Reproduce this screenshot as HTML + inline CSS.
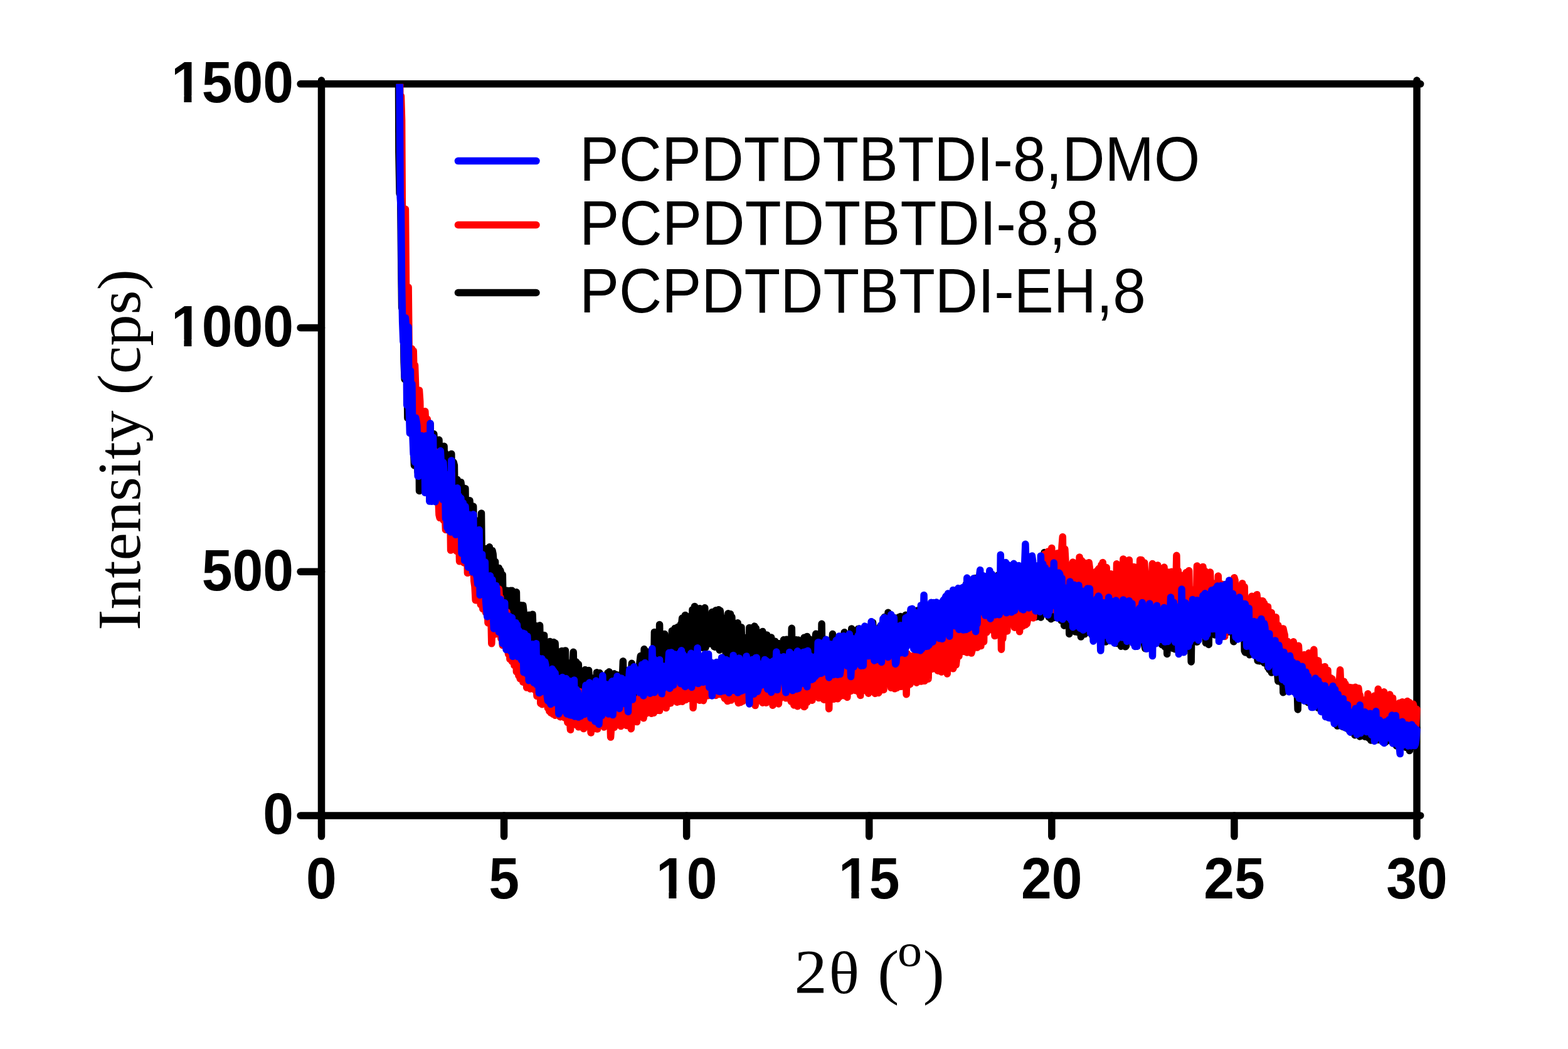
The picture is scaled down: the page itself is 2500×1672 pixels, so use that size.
<!DOCTYPE html>
<html lang="en"><head><meta charset="utf-8"><title>XRD patterns</title>
<style>html,body{margin:0;padding:0;background:#fff}body{width:2500px;height:1672px;overflow:hidden}svg{display:block}.tk{font-family:"Liberation Sans",Arial,Helvetica,sans-serif;font-weight:bold;fill:#000}.lg{font-family:"Liberation Sans",Arial,Helvetica,sans-serif;fill:#000}.ti{font-family:"Liberation Serif","Times New Roman",Times,serif;fill:#000}</style></head><body>
<svg width="2500" height="1672" viewBox="0 0 2500 1672">
<rect width="2500" height="1672" fill="#fff"/>
<defs><clipPath id="pc"><rect x="500" y="133.85" width="1790" height="1200"/></clipPath></defs>
<g stroke="#000" stroke-width="11.5" stroke-linecap="round" fill="none">
<path d="M512.5,128.10V1299.9"/>
<path d="M2259.0,128.10V1299.9"/>
<path d="M512.5,133.85H2264.75"/>
<path d="M512.5,1299.9H2264.75"/>
<path d="M512.50,1299.9V1333.10"/>
<path d="M803.58,1299.9V1333.10"/>
<path d="M1094.67,1299.9V1333.10"/>
<path d="M1385.75,1299.9V1333.10"/>
<path d="M1676.83,1299.9V1333.10"/>
<path d="M1967.92,1299.9V1333.10"/>
<path d="M2259.00,1299.9V1333.10"/>
<path d="M479.10,1299.90H512.5"/>
<path d="M479.10,911.22H512.5"/>
<path d="M479.10,522.53H512.5"/>
<path d="M479.10,133.85H512.5"/>
</g>
<text class="tk" transform="translate(512.50,1431.70) scale(0.952,1)" font-size="92.1" text-anchor="middle">0</text>
<text class="tk" transform="translate(803.58,1431.70) scale(0.952,1)" font-size="92.1" text-anchor="middle">5</text>
<text class="tk" transform="translate(1094.67,1431.70) scale(0.952,1)" font-size="92.1" text-anchor="middle">10</text>
<text class="tk" transform="translate(1385.75,1431.70) scale(0.952,1)" font-size="92.1" text-anchor="middle">15</text>
<text class="tk" transform="translate(1676.83,1431.70) scale(0.952,1)" font-size="92.1" text-anchor="middle">20</text>
<text class="tk" transform="translate(1967.92,1431.70) scale(0.952,1)" font-size="92.1" text-anchor="middle">25</text>
<text class="tk" transform="translate(2259.00,1431.70) scale(0.952,1)" font-size="92.1" text-anchor="middle">30</text>
<text class="tk" transform="translate(468.00,1329.40) scale(0.952,1)" font-size="92.1" text-anchor="end">0</text>
<text class="tk" transform="translate(468.00,940.72) scale(0.952,1)" font-size="92.1" text-anchor="end">500</text>
<text class="tk" transform="translate(468.00,552.03) scale(0.952,1)" font-size="92.1" text-anchor="end">1000</text>
<text class="tk" transform="translate(468.00,163.35) scale(0.952,1)" font-size="92.1" text-anchor="end">1500</text>
<rect x="277.27" y="541.03" width="16.14" height="12.00" fill="#fff"/>
<rect x="305.44" y="541.03" width="15.03" height="12.00" fill="#fff"/>
<rect x="277.27" y="152.35" width="16.14" height="12.00" fill="#fff"/>
<rect x="305.44" y="152.35" width="15.03" height="12.00" fill="#fff"/>
<rect x="1050.23" y="1420.70" width="16.14" height="12.00" fill="#fff"/>
<rect x="1078.40" y="1420.70" width="15.03" height="12.00" fill="#fff"/>
<rect x="1341.31" y="1420.70" width="16.14" height="12.00" fill="#fff"/>
<rect x="1369.48" y="1420.70" width="15.03" height="12.00" fill="#fff"/>
<text class="ti" transform="translate(222.90,717.00) rotate(-90) scale(1.029,1)" font-size="97.3" text-anchor="middle">Intensity (cps)</text>
<text class="ti" transform="scale(1.06,1)"><tspan x="1194.91" y="1582" font-size="98.6">2</tspan><tspan x="1246.60" y="1582.6" font-size="95.9">θ </tspan><tspan x="1320.05" y="1582" font-size="96.5">(</tspan><tspan x="1350.09" y="1539.6" font-size="73.7">o</tspan><tspan x="1388.44" y="1582" font-size="96.5">)</tspan></text>
<g clip-path="url(#pc)" fill="none" stroke-width="11.5" stroke-linejoin="round" stroke-linecap="round">
<path stroke="#000000" d="M628.9,-690.4 630.1,-586.3 631.3,-441.8 632.4,-145.1 633.6,0.9 634.8,-71.4 635.9,242.9 637.1,308.6 638.2,264.2 639.4,385.5 640.6,490.5 641.7,486.0 642.9,484.5 644.1,577.2 645.2,604.5 646.4,518.5 647.6,542.2 648.7,578.3 649.9,666.4 651.1,590.4 652.2,557.3 653.4,670.5 654.5,621.0 655.7,652.7 656.9,680.9 658.0,639.3 659.2,706.5 660.4,741.9 661.5,634.7 662.7,736.1 663.9,706.4 665.0,734.2 666.2,752.8 667.4,629.2 668.5,782.5 669.7,754.9 670.8,683.4 672.0,754.1 673.2,667.9 674.3,755.8 675.5,770.8 676.7,759.8 677.8,748.0 679.0,732.6 680.2,675.8 681.3,693.7 682.5,752.9 683.7,779.4 684.8,770.5 686.0,675.5 687.2,741.9 688.3,701.1 689.5,782.1 690.6,784.4 691.8,691.6 693.0,716.6 694.1,766.4 695.3,766.7 696.5,786.0 697.6,781.2 698.8,792.8 700.0,701.1 701.1,755.0 702.3,790.3 703.5,714.4 704.6,788.9 705.8,800.3 706.9,734.6 708.1,711.3 709.3,808.8 710.4,722.6 711.6,802.0 712.8,811.1 713.9,818.1 715.1,800.4 716.3,741.0 717.4,778.8 718.6,736.0 719.8,723.4 720.9,809.1 722.1,816.0 723.2,737.0 724.4,741.6 725.6,815.1 726.7,806.6 727.9,821.6 729.1,764.2 730.2,845.5 731.4,845.9 732.6,821.3 733.7,837.9 734.9,768.7 736.1,778.6 737.2,800.8 738.4,790.2 739.5,790.0 740.7,785.7 741.9,778.6 743.0,862.9 744.2,806.5 745.4,868.4 746.5,845.4 747.7,801.9 748.9,797.8 750.0,809.8 751.2,888.1 752.4,868.3 753.5,885.8 754.7,807.1 755.8,892.6 757.0,888.7 758.2,882.6 759.3,905.7 760.5,829.9 761.7,849.6 762.8,908.2 764.0,877.2 765.2,918.4 766.3,863.4 767.5,817.9 768.7,928.4 769.8,926.6 771.0,880.1 772.1,874.2 773.3,919.8 774.5,878.4 775.6,922.1 776.8,939.5 778.0,929.4 779.1,924.8 780.3,871.8 781.5,948.9 782.6,952.6 783.8,904.3 785.0,877.8 786.1,883.0 787.3,898.1 788.4,963.6 789.6,895.1 790.8,983.3 791.9,965.0 793.1,941.1 794.3,974.0 795.4,905.5 796.6,912.9 797.8,909.3 798.9,914.0 800.1,970.4 801.3,916.1 802.4,975.2 803.6,983.7 804.7,968.1 805.9,955.0 807.1,979.8 808.2,941.2 809.4,943.4 810.6,988.1 811.7,945.5 812.9,983.5 814.1,941.2 815.2,991.9 816.4,941.2 817.6,985.7 818.7,963.8 819.9,955.2 821.0,972.4 822.2,1004.8 823.4,943.8 824.5,1017.3 825.7,1005.7 826.9,977.6 828.0,1025.6 829.2,1021.1 830.4,964.8 831.5,967.5 832.7,978.8 833.9,965.1 835.0,974.7 836.2,1022.7 837.3,985.4 838.5,1023.1 839.7,982.0 840.8,1022.9 842.0,1038.6 843.2,980.3 844.3,992.2 845.5,990.5 846.7,1005.4 847.8,991.4 849.0,979.2 850.2,1009.2 851.3,1053.8 852.5,1013.1 853.6,997.2 854.8,1004.7 856.0,1000.7 857.1,1029.8 858.3,999.7 859.5,1060.4 860.6,996.8 861.8,1048.4 863.0,1064.9 864.1,1021.4 865.3,1045.2 866.5,1049.0 867.6,1012.4 868.8,1068.8 870.0,1028.3 871.1,1055.3 872.3,1038.9 873.4,1046.7 874.6,1074.8 875.8,1045.0 876.9,1022.5 878.1,1076.3 879.3,1084.2 880.4,1082.9 881.6,1061.2 882.8,1023.5 883.9,1086.6 885.1,1024.9 886.3,1051.1 887.4,1085.8 888.6,1070.2 889.7,1083.4 890.9,1041.7 892.1,1054.5 893.2,1081.4 894.4,1083.7 895.6,1037.4 896.7,1042.8 897.9,1074.3 899.1,1077.4 900.2,1046.4 901.4,1036.9 902.6,1096.1 903.7,1093.4 904.9,1083.7 906.0,1067.6 907.2,1099.2 908.4,1100.7 909.5,1094.5 910.7,1086.3 911.9,1054.9 913.0,1063.4 914.2,1039.3 915.4,1106.8 916.5,1086.8 917.7,1055.3 918.9,1055.1 920.0,1096.9 921.2,1058.9 922.3,1058.7 923.5,1097.7 924.7,1068.8 925.8,1102.5 927.0,1113.6 928.2,1081.6 929.3,1117.6 930.5,1077.4 931.7,1071.1 932.8,1067.5 934.0,1101.4 935.2,1119.1 936.3,1069.8 937.5,1071.5 938.6,1068.5 939.8,1086.0 941.0,1081.8 942.1,1109.9 943.3,1119.5 944.5,1115.0 945.6,1080.9 946.8,1113.8 948.0,1082.8 949.1,1097.8 950.3,1106.2 951.5,1071.7 952.6,1121.3 953.8,1102.1 954.9,1121.5 956.1,1072.6 957.3,1101.7 958.4,1113.5 959.6,1120.9 960.8,1088.1 961.9,1109.3 963.1,1122.2 964.3,1125.6 965.4,1109.5 966.6,1088.2 967.8,1093.8 968.9,1072.6 970.1,1072.0 971.2,1070.8 972.4,1075.9 973.6,1133.1 974.7,1140.5 975.9,1107.1 977.1,1106.7 978.2,1122.6 979.4,1073.8 980.6,1113.8 981.7,1122.0 982.9,1099.4 984.1,1075.7 985.2,1101.3 986.4,1105.7 987.5,1077.3 988.7,1114.4 989.9,1119.7 991.0,1079.8 992.2,1084.5 993.4,1053.7 994.5,1099.0 995.7,1067.4 996.9,1116.8 998.0,1116.0 999.2,1075.8 1000.4,1107.0 1001.5,1113.1 1002.7,1110.2 1003.8,1097.8 1005.0,1099.4 1006.2,1074.9 1007.3,1057.3 1008.5,1096.0 1009.7,1104.6 1010.8,1071.3 1012.0,1110.6 1013.2,1092.3 1014.3,1095.7 1015.5,1090.8 1016.7,1122.3 1017.8,1068.9 1019.0,1063.0 1020.1,1055.3 1021.3,1045.6 1022.5,1088.5 1023.6,1057.7 1024.8,1080.7 1026.0,1093.5 1027.1,1034.6 1028.3,1049.3 1029.5,1039.8 1030.6,1043.9 1031.8,1038.8 1033.0,1092.4 1034.1,1096.0 1035.3,1087.3 1036.5,1073.9 1037.6,1043.7 1038.8,1069.1 1039.9,1055.0 1041.1,1035.4 1042.3,1085.4 1043.4,1007.4 1044.6,1083.9 1045.8,1073.7 1046.9,1030.7 1048.1,1031.9 1049.3,1061.2 1050.4,1067.6 1051.6,995.5 1052.8,1067.3 1053.9,1078.0 1055.1,1067.5 1056.2,1077.2 1057.4,1019.0 1058.6,1071.8 1059.7,1010.5 1060.9,1066.4 1062.1,1060.8 1063.2,1029.5 1064.4,1059.4 1065.6,1054.2 1066.7,1068.5 1067.9,1052.0 1069.1,1070.4 1070.2,1060.5 1071.4,1005.4 1072.5,1055.5 1073.7,1054.9 1074.9,1013.6 1076.0,1001.4 1077.2,1049.6 1078.4,1042.9 1079.5,1005.3 1080.7,999.4 1081.9,1008.8 1083.0,1048.9 1084.2,1047.4 1085.4,995.0 1086.5,996.5 1087.7,985.2 1088.8,989.8 1090.0,1025.9 1091.2,1042.9 1092.3,980.6 1093.5,989.9 1094.7,997.6 1095.8,988.4 1097.0,1022.2 1098.2,1024.3 1099.3,993.1 1100.5,1008.8 1101.7,981.2 1102.8,1041.1 1104.0,971.7 1105.1,1016.1 1106.3,1016.8 1107.5,966.4 1108.6,1014.6 1109.8,972.7 1111.0,1032.9 1112.1,1009.5 1113.3,995.7 1114.5,973.0 1115.6,969.7 1116.8,1031.2 1118.0,986.3 1119.1,985.8 1120.3,1032.3 1121.4,974.1 1122.6,993.9 1123.8,968.8 1124.9,1032.2 1126.1,998.7 1127.3,1024.9 1128.4,988.3 1129.6,991.3 1130.8,1002.3 1131.9,1026.1 1133.1,1004.8 1134.3,1023.1 1135.4,975.5 1136.6,1015.0 1137.7,1013.2 1138.9,1030.8 1140.1,1031.2 1141.2,972.8 1142.4,1027.5 1143.6,977.0 1144.7,993.9 1145.9,971.8 1147.1,1036.2 1148.2,973.6 1149.4,982.2 1150.6,996.5 1151.7,986.0 1152.9,985.2 1154.0,1017.1 1155.2,991.2 1156.4,1033.2 1157.5,1043.5 1158.7,988.6 1159.9,1014.9 1161.0,977.7 1162.2,1034.1 1163.4,1063.1 1164.5,978.8 1165.7,984.6 1166.9,983.5 1168.0,1047.5 1169.2,1048.7 1170.3,1046.6 1171.5,1039.5 1172.7,1053.9 1173.8,1052.6 1175.0,1058.9 1176.2,992.7 1177.3,1041.3 1178.5,1010.0 1179.7,1033.8 1180.8,1003.0 1182.0,999.8 1183.2,1040.6 1184.3,1019.0 1185.5,1056.9 1186.6,1047.4 1187.8,1051.0 1189.0,1046.3 1190.1,1045.5 1191.3,1015.8 1192.5,1045.3 1193.6,1045.9 1194.8,1000.5 1196.0,1062.3 1197.1,1062.9 1198.3,1061.0 1199.5,1000.4 1200.6,1014.0 1201.8,1008.7 1202.9,998.1 1204.1,1056.0 1205.3,1001.2 1206.4,1056.0 1207.6,1028.8 1208.8,1015.8 1209.9,1010.2 1211.1,1058.7 1212.3,1042.2 1213.4,1069.8 1214.6,1058.8 1215.8,1006.4 1216.9,1010.6 1218.1,1029.8 1219.3,1018.0 1220.4,1013.4 1221.6,1061.1 1222.7,1011.9 1223.9,1053.8 1225.1,1072.5 1226.2,1040.7 1227.4,1035.7 1228.6,1030.2 1229.7,1016.0 1230.9,1082.0 1232.1,1036.6 1233.2,1023.2 1234.4,1036.2 1235.6,1022.2 1236.7,1050.6 1237.9,1029.5 1239.0,1080.6 1240.2,1025.5 1241.4,1063.0 1242.5,1025.8 1243.7,1070.7 1244.9,1038.6 1246.0,1026.2 1247.2,1032.6 1248.4,1037.9 1249.5,1019.8 1250.7,1080.3 1251.9,1079.5 1253.0,1042.2 1254.2,1019.3 1255.3,1094.2 1256.5,1068.5 1257.7,1078.4 1258.8,1058.4 1260.0,1054.7 1261.2,1056.3 1262.3,1001.3 1263.5,1070.5 1264.7,1022.1 1265.8,1069.6 1267.0,1078.5 1268.2,1066.0 1269.3,1019.7 1270.5,1076.1 1271.6,1070.2 1272.8,1020.1 1274.0,1066.1 1275.1,1023.8 1276.3,1081.1 1277.5,1021.6 1278.6,1072.1 1279.8,1074.7 1281.0,1027.9 1282.1,1016.3 1283.3,1017.1 1284.5,1026.1 1285.6,1017.9 1286.8,1014.4 1287.9,1037.9 1289.1,1073.0 1290.3,1018.6 1291.4,1057.9 1292.6,1062.9 1293.8,1043.1 1294.9,1075.5 1296.1,1085.4 1297.3,1064.1 1298.4,1030.0 1299.6,1020.1 1300.8,1010.2 1301.9,1016.4 1303.1,1010.8 1304.2,1026.6 1305.4,1020.7 1306.6,1030.2 1307.7,1072.2 1308.9,1073.0 1310.1,994.3 1311.2,1066.6 1312.4,1017.8 1313.6,1048.9 1314.7,1075.3 1315.9,1032.4 1317.1,1051.1 1318.2,1072.5 1319.4,1063.6 1320.5,1061.0 1321.7,1058.6 1322.9,1022.2 1324.0,1068.3 1325.2,1051.1 1326.4,1028.7 1327.5,1010.6 1328.7,1070.7 1329.9,1072.3 1331.0,1067.1 1332.2,1065.7 1333.4,1068.5 1334.5,1072.4 1335.7,1066.3 1336.8,1065.6 1338.0,1046.9 1339.2,1025.8 1340.3,1057.4 1341.5,1068.3 1342.7,1071.6 1343.8,1063.5 1345.0,1068.1 1346.2,1007.8 1347.3,1013.8 1348.5,1021.4 1349.7,1066.1 1350.8,1073.5 1352.0,1071.9 1353.1,1050.6 1354.3,1090.9 1355.5,1021.6 1356.6,1069.9 1357.8,1002.0 1359.0,1081.3 1360.1,1028.3 1361.3,1033.8 1362.5,1008.1 1363.6,1066.6 1364.8,1062.4 1366.0,1026.6 1367.1,1026.2 1368.3,1002.5 1369.4,1002.1 1370.6,1022.8 1371.8,1011.2 1372.9,1014.2 1374.1,1061.8 1375.3,1019.4 1376.4,1086.1 1377.6,1047.7 1378.8,1058.6 1379.9,1064.7 1381.1,1001.7 1382.3,1008.3 1383.4,1005.7 1384.6,1048.9 1385.8,1039.3 1386.9,1053.8 1388.1,1012.9 1389.2,998.1 1390.4,1000.5 1391.6,992.5 1392.7,1046.7 1393.9,1003.2 1395.1,1052.6 1396.2,1015.3 1397.4,1052.5 1398.6,1013.8 1399.7,1013.1 1400.9,1038.1 1402.1,1037.6 1403.2,998.8 1404.4,1024.5 1405.5,1032.1 1406.7,1049.4 1407.9,1040.1 1409.0,989.5 1410.2,983.4 1411.4,1033.2 1412.5,987.3 1413.7,986.9 1414.9,1041.9 1416.0,976.2 1417.2,995.6 1418.4,1036.0 1419.5,981.5 1420.7,1031.5 1421.8,992.3 1423.0,993.4 1424.2,1040.0 1425.3,984.2 1426.5,1032.7 1427.7,1044.5 1428.8,1047.1 1430.0,1021.8 1431.2,996.4 1432.3,1035.0 1433.5,983.4 1434.7,1034.7 1435.8,982.5 1437.0,1046.1 1438.1,1034.2 1439.3,1039.6 1440.5,1019.9 1441.6,1027.8 1442.8,1024.2 1444.0,980.2 1445.1,997.2 1446.3,994.7 1447.5,1023.4 1448.6,981.1 1449.8,1006.8 1451.0,983.9 1452.1,974.8 1453.3,992.2 1454.4,1017.5 1455.6,1029.8 1456.8,973.4 1457.9,980.7 1459.1,978.4 1460.3,1030.9 1461.4,1015.3 1462.6,973.0 1463.8,1028.5 1464.9,975.8 1466.1,995.4 1467.3,1029.1 1468.4,1018.6 1469.6,1035.7 1470.7,982.3 1471.9,978.5 1473.1,1036.9 1474.2,1022.1 1475.4,974.8 1476.6,1027.4 1477.7,991.9 1478.9,971.6 1480.1,987.5 1481.2,1030.0 1482.4,965.1 1483.6,973.3 1484.7,986.4 1485.9,1016.4 1487.0,983.9 1488.2,1011.2 1489.4,1027.7 1490.5,1027.1 1491.7,1030.5 1492.9,1023.9 1494.0,1019.3 1495.2,976.6 1496.4,980.8 1497.5,979.4 1498.7,963.5 1499.9,1025.4 1501.0,1007.0 1502.2,1025.3 1503.3,1003.5 1504.5,1024.5 1505.7,1024.7 1506.8,1022.4 1508.0,1004.2 1509.2,962.4 1510.3,1011.0 1511.5,962.6 1512.7,1013.0 1513.8,1009.2 1515.0,992.7 1516.2,1020.1 1517.3,994.5 1518.5,971.1 1519.6,954.0 1520.8,1019.0 1522.0,954.2 1523.1,970.2 1524.3,1037.9 1525.5,1017.3 1526.6,947.6 1527.8,1003.8 1529.0,970.0 1530.1,970.4 1531.3,943.7 1532.5,962.7 1533.6,938.6 1534.8,1003.5 1535.9,956.2 1537.1,962.8 1538.3,970.5 1539.4,957.2 1540.6,930.6 1541.8,993.6 1542.9,954.5 1544.1,1007.8 1545.3,977.8 1546.4,981.0 1547.6,999.3 1548.8,958.5 1549.9,949.3 1551.1,1002.9 1552.2,992.2 1553.4,1005.3 1554.6,921.4 1555.7,1003.5 1556.9,994.8 1558.1,977.1 1559.2,976.2 1560.4,1004.3 1561.6,928.1 1562.7,992.7 1563.9,948.5 1565.1,992.4 1566.2,948.9 1567.4,982.6 1568.6,984.8 1569.7,969.3 1570.9,948.1 1572.0,946.5 1573.2,938.8 1574.4,986.2 1575.5,996.1 1576.7,986.4 1577.9,981.0 1579.0,943.1 1580.2,972.8 1581.4,980.9 1582.5,993.4 1583.7,942.3 1584.9,992.0 1586.0,951.3 1587.2,933.5 1588.3,938.2 1589.5,987.6 1590.7,974.1 1591.8,916.4 1593.0,990.0 1594.2,931.1 1595.3,964.5 1596.5,935.3 1597.7,967.8 1598.8,985.7 1600.0,938.7 1601.2,990.9 1602.3,915.5 1603.5,918.7 1604.6,966.6 1605.8,939.4 1607.0,940.4 1608.1,906.9 1609.3,986.1 1610.5,970.6 1611.6,961.3 1612.8,916.1 1614.0,919.6 1615.1,958.9 1616.3,986.2 1617.5,925.1 1618.6,960.2 1619.8,980.4 1620.9,926.4 1622.1,956.1 1623.3,968.5 1624.4,971.1 1625.6,938.8 1626.8,972.6 1627.9,961.5 1629.1,906.4 1630.3,951.4 1631.4,972.2 1632.6,938.8 1633.8,907.7 1634.9,910.5 1636.1,922.7 1637.2,908.7 1638.4,917.1 1639.6,893.0 1640.7,958.0 1641.9,978.6 1643.1,918.8 1644.2,926.1 1645.4,905.0 1646.6,967.3 1647.7,909.7 1648.9,974.1 1650.1,905.5 1651.2,902.8 1652.4,983.2 1653.5,965.9 1654.7,901.9 1655.9,903.1 1657.0,921.1 1658.2,977.3 1659.4,984.0 1660.5,970.0 1661.7,903.3 1662.9,911.0 1664.0,955.0 1665.2,880.4 1666.4,905.4 1667.5,966.4 1668.7,907.5 1669.8,969.3 1671.0,965.5 1672.2,983.6 1673.3,977.9 1674.5,935.1 1675.7,986.7 1676.8,937.5 1678.0,980.4 1679.2,922.0 1680.3,984.5 1681.5,980.8 1682.7,977.7 1683.8,938.9 1685.0,923.1 1686.1,927.4 1687.3,929.1 1688.5,934.0 1689.6,947.4 1690.8,977.7 1692.0,989.0 1693.1,925.1 1694.3,973.7 1695.5,940.0 1696.6,997.2 1697.8,979.4 1699.0,996.4 1700.1,980.9 1701.3,936.8 1702.4,982.9 1703.6,941.3 1704.8,1010.4 1705.9,980.9 1707.1,979.1 1708.3,961.8 1709.4,993.7 1710.6,943.7 1711.8,933.4 1712.9,938.0 1714.1,1006.9 1715.3,973.8 1716.4,990.1 1717.6,959.1 1718.7,1007.8 1719.9,949.0 1721.1,988.1 1722.2,939.4 1723.4,1015.0 1724.6,991.1 1725.7,983.2 1726.9,949.4 1728.1,954.6 1729.2,1010.7 1730.4,1003.5 1731.6,957.6 1732.7,995.5 1733.9,1007.6 1735.1,948.1 1736.2,952.9 1737.4,1002.2 1738.5,974.6 1739.7,949.4 1740.9,1012.0 1742.0,950.9 1743.2,952.4 1744.4,961.6 1745.5,964.5 1746.7,964.8 1747.9,977.1 1749.0,973.3 1750.2,1014.8 1751.4,975.7 1752.5,966.6 1753.7,991.6 1754.8,966.6 1756.0,996.1 1757.2,959.4 1758.3,964.5 1759.5,1022.0 1760.7,962.0 1761.8,1011.5 1763.0,1023.0 1764.2,1021.2 1765.3,1009.5 1766.5,983.2 1767.7,1009.5 1768.8,1017.6 1770.0,963.9 1771.1,1006.9 1772.3,958.6 1773.5,1016.1 1774.6,969.7 1775.8,1009.0 1777.0,960.8 1778.1,973.4 1779.3,971.4 1780.5,1025.4 1781.6,967.1 1782.8,1010.4 1784.0,968.2 1785.1,962.5 1786.3,1024.8 1787.4,1030.2 1788.6,968.0 1789.8,957.3 1790.9,960.7 1792.1,1004.9 1793.3,964.5 1794.4,1030.8 1795.6,1029.3 1796.8,981.9 1797.9,988.1 1799.1,965.9 1800.3,1020.8 1801.4,1003.1 1802.6,958.3 1803.7,1017.0 1804.9,1009.6 1806.1,980.9 1807.2,958.8 1808.4,1024.7 1809.6,975.3 1810.7,1009.5 1811.9,1010.9 1813.1,1021.1 1814.2,1004.6 1815.4,985.3 1816.6,1012.3 1817.7,995.0 1818.9,980.6 1820.0,967.6 1821.2,987.5 1822.4,1013.8 1823.5,962.8 1824.7,1027.4 1825.9,1033.8 1827.0,965.8 1828.2,1022.5 1829.4,1029.0 1830.5,1014.5 1831.7,1017.8 1832.9,1017.1 1834.0,969.4 1835.2,1021.6 1836.3,1030.5 1837.5,1026.2 1838.7,964.9 1839.8,1011.4 1841.0,1017.2 1842.2,973.9 1843.3,965.8 1844.5,996.4 1845.7,971.9 1846.8,1023.6 1848.0,1018.0 1849.2,987.9 1850.3,1025.2 1851.5,1022.8 1852.6,1027.7 1853.8,1023.4 1855.0,970.0 1856.1,972.3 1857.3,1031.1 1858.5,1017.3 1859.6,976.1 1860.8,1042.4 1862.0,988.2 1863.1,975.4 1864.3,1023.7 1865.5,971.8 1866.6,969.6 1867.8,1011.6 1868.9,1023.4 1870.1,1033.6 1871.3,981.1 1872.4,980.8 1873.6,1034.8 1874.8,992.0 1875.9,962.8 1877.1,1033.3 1878.3,1027.9 1879.4,1031.7 1880.6,1007.7 1881.8,1012.3 1882.9,965.5 1884.1,1031.0 1885.2,1024.0 1886.4,961.8 1887.6,1032.9 1888.7,1020.4 1889.9,1010.8 1891.1,1033.4 1892.2,1018.3 1893.4,981.2 1894.6,949.5 1895.7,980.4 1896.9,977.0 1898.1,979.7 1899.2,1055.0 1900.4,976.3 1901.5,981.8 1902.7,1021.2 1903.9,1006.9 1905.0,1019.7 1906.2,962.6 1907.4,1016.8 1908.5,1023.2 1909.7,965.5 1910.9,967.2 1912.0,961.7 1913.2,971.6 1914.4,1004.3 1915.5,997.1 1916.7,980.2 1917.9,975.7 1919.0,953.7 1920.2,1012.8 1921.3,961.7 1922.5,1024.8 1923.7,1015.4 1924.8,950.4 1926.0,1010.7 1927.2,1027.4 1928.3,949.7 1929.5,964.5 1930.7,986.9 1931.8,959.9 1933.0,944.0 1934.2,945.2 1935.3,1010.1 1936.5,1011.9 1937.6,1002.7 1938.8,1010.7 1940.0,952.1 1941.1,947.7 1942.3,1009.9 1943.5,1013.0 1944.6,998.1 1945.8,955.2 1947.0,949.5 1948.1,984.6 1949.3,957.7 1950.5,940.4 1951.6,942.1 1952.8,1008.5 1953.9,951.5 1955.1,947.5 1956.3,940.5 1957.4,988.6 1958.6,1007.1 1959.8,983.1 1960.9,994.5 1962.1,993.4 1963.3,950.1 1964.4,960.9 1965.6,959.9 1966.8,1022.7 1967.9,1014.6 1969.1,1019.8 1970.2,1000.3 1971.4,955.6 1972.6,969.6 1973.7,962.2 1974.9,975.2 1976.1,966.5 1977.2,957.9 1978.4,974.7 1979.6,968.3 1980.7,964.6 1981.9,978.1 1983.1,975.2 1984.2,1037.2 1985.4,1039.9 1986.5,972.3 1987.7,1031.1 1988.9,1027.7 1990.0,1037.7 1991.2,991.5 1992.4,1043.8 1993.5,982.5 1994.7,1031.0 1995.9,987.0 1997.0,979.1 1998.2,991.9 1999.4,1024.6 2000.5,998.3 2001.7,985.6 2002.8,994.5 2004.0,1040.3 2005.2,1053.2 2006.3,988.8 2007.5,1004.8 2008.7,1053.8 2009.8,1013.4 2011.0,1011.0 2012.2,1045.3 2013.3,996.0 2014.5,1050.7 2015.7,1056.7 2016.8,1049.1 2018.0,1048.4 2019.1,1002.8 2020.3,1016.3 2021.5,1063.8 2022.6,1049.8 2023.8,1067.4 2025.0,1019.4 2026.1,1013.4 2027.3,1072.1 2028.5,1044.2 2029.6,1067.8 2030.8,1067.1 2032.0,1027.1 2033.1,1018.3 2034.3,1071.8 2035.4,1045.7 2036.6,1072.7 2037.8,1085.8 2038.9,1044.8 2040.1,1012.9 2041.3,1042.1 2042.4,1040.4 2043.6,1088.6 2044.8,1052.1 2045.9,1103.8 2047.1,1045.1 2048.3,1086.5 2049.4,1051.5 2050.6,1055.1 2051.7,1061.3 2052.9,1094.3 2054.1,1049.3 2055.2,1089.1 2056.4,1054.3 2057.6,1081.5 2058.7,1085.2 2059.9,1060.1 2061.1,1094.4 2062.2,1059.4 2063.4,1088.8 2064.6,1062.2 2065.7,1065.2 2066.9,1055.2 2068.0,1094.6 2069.2,1130.9 2070.4,1055.7 2071.5,1082.1 2072.7,1096.6 2073.9,1070.2 2075.0,1107.4 2076.2,1060.8 2077.4,1069.8 2078.5,1075.8 2079.7,1107.9 2080.9,1069.5 2082.0,1065.8 2083.2,1071.6 2084.4,1067.5 2085.5,1119.6 2086.7,1076.1 2087.8,1071.5 2089.0,1100.7 2090.2,1122.6 2091.3,1091.0 2092.5,1117.5 2093.7,1126.4 2094.8,1073.8 2096.0,1078.6 2097.2,1088.7 2098.3,1083.9 2099.5,1088.4 2100.7,1109.9 2101.8,1128.5 2103.0,1122.4 2104.1,1104.7 2105.3,1098.2 2106.5,1124.3 2107.6,1132.4 2108.8,1124.0 2110.0,1131.8 2111.1,1087.2 2112.3,1132.1 2113.5,1124.6 2114.6,1108.8 2115.8,1133.4 2117.0,1118.4 2118.1,1110.7 2119.3,1143.5 2120.4,1094.7 2121.6,1114.8 2122.8,1142.7 2123.9,1096.6 2125.1,1143.6 2126.3,1107.9 2127.4,1128.5 2128.6,1142.6 2129.8,1137.8 2130.9,1131.3 2132.1,1157.1 2133.3,1146.4 2134.4,1139.0 2135.6,1138.6 2136.7,1118.1 2137.9,1151.6 2139.1,1157.5 2140.2,1115.2 2141.4,1158.5 2142.6,1125.6 2143.7,1131.5 2144.9,1114.7 2146.1,1157.8 2147.2,1119.4 2148.4,1161.5 2149.6,1160.9 2150.7,1131.0 2151.9,1162.6 2153.0,1136.1 2154.2,1112.0 2155.4,1166.0 2156.5,1129.5 2157.7,1155.0 2158.9,1125.3 2160.0,1171.7 2161.2,1170.3 2162.4,1139.7 2163.5,1165.3 2164.7,1159.4 2165.9,1130.6 2167.0,1163.2 2168.2,1173.9 2169.3,1171.5 2170.5,1146.9 2171.7,1137.4 2172.8,1138.5 2174.0,1158.5 2175.2,1170.3 2176.3,1174.3 2177.5,1171.6 2178.7,1172.7 2179.8,1136.3 2181.0,1165.0 2182.2,1176.4 2183.3,1147.0 2184.5,1163.0 2185.6,1179.9 2186.8,1136.6 2188.0,1137.9 2189.1,1173.5 2190.3,1142.0 2191.5,1165.1 2192.6,1148.3 2193.8,1149.5 2195.0,1146.7 2196.1,1167.2 2197.3,1179.4 2198.5,1145.2 2199.6,1168.1 2200.8,1168.2 2201.9,1147.6 2203.1,1150.6 2204.3,1141.3 2205.4,1172.2 2206.6,1153.5 2207.8,1183.4 2208.9,1182.9 2210.1,1178.6 2211.3,1178.0 2212.4,1170.6 2213.6,1180.2 2214.8,1145.4 2215.9,1172.5 2217.1,1175.0 2218.2,1133.1 2219.4,1150.6 2220.6,1151.7 2221.7,1147.6 2222.9,1153.4 2224.1,1179.6 2225.2,1147.2 2226.4,1188.7 2227.6,1149.5 2228.7,1175.6 2229.9,1179.6 2231.1,1172.5 2232.2,1177.3 2233.4,1151.9 2234.5,1153.8 2235.7,1156.0 2236.9,1184.8 2238.0,1176.4 2239.2,1190.0 2240.4,1157.3 2241.5,1191.3 2242.7,1179.8 2243.9,1188.8 2245.0,1155.1 2246.2,1153.5 2247.4,1196.5 2248.5,1155.4 2249.7,1189.3 2250.8,1161.1 2252.0,1187.6 2253.2,1179.6 2254.3,1166.0 2255.5,1184.7 2256.7,1190.3 2257.8,1168.0 2259.0,1160.5"/>
<path stroke="#ff0000" d="M628.9,-759.6 630.1,-601.2 631.3,-449.4 632.4,-437.6 633.6,-238.0 634.8,-223.8 635.9,-97.0 637.1,-3.1 638.2,244.9 639.4,153.1 640.6,191.2 641.7,385.8 642.9,345.1 644.1,380.3 645.2,402.6 646.4,333.2 647.6,470.9 648.7,536.8 649.9,580.2 651.1,457.8 652.2,561.5 653.4,599.3 654.5,623.4 655.7,570.2 656.9,556.1 658.0,621.3 659.2,559.2 660.4,608.1 661.5,582.1 662.7,617.1 663.9,621.4 665.0,671.3 666.2,708.3 667.4,629.6 668.5,622.2 669.7,639.7 670.8,700.1 672.0,736.9 673.2,733.8 674.3,680.8 675.5,671.0 676.7,757.8 677.8,655.6 679.0,678.5 680.2,682.8 681.3,667.9 682.5,704.2 683.7,737.5 684.8,776.4 686.0,714.6 687.2,718.7 688.3,704.2 689.5,710.0 690.6,766.6 691.8,723.0 693.0,719.2 694.1,789.1 695.3,753.9 696.5,758.2 697.6,787.0 698.8,791.8 700.0,820.4 701.1,825.3 702.3,817.9 703.5,773.5 704.6,768.9 705.8,758.3 706.9,829.0 708.1,795.0 709.3,815.6 710.4,844.4 711.6,759.7 712.8,835.5 713.9,784.9 715.1,787.0 716.3,782.9 717.4,780.8 718.6,877.1 719.8,754.4 720.9,800.4 722.1,854.0 723.2,857.7 724.4,797.4 725.6,802.8 726.7,806.4 727.9,878.4 729.1,795.4 730.2,822.0 731.4,854.5 732.6,894.8 733.7,889.4 734.9,878.2 736.1,891.4 737.2,880.1 738.4,824.8 739.5,896.9 740.7,831.0 741.9,846.9 743.0,889.9 744.2,831.8 745.4,913.3 746.5,902.9 747.7,874.6 748.9,894.4 750.0,898.3 751.2,838.3 752.4,874.2 753.5,865.7 754.7,901.1 755.8,926.1 757.0,934.8 758.2,956.8 759.3,877.6 760.5,865.3 761.7,938.6 762.8,930.9 764.0,936.0 765.2,908.2 766.3,963.6 767.5,898.3 768.7,905.9 769.8,970.7 771.0,914.2 772.1,961.6 773.3,956.4 774.5,976.3 775.6,928.1 776.8,939.8 778.0,992.9 779.1,988.7 780.3,935.2 781.5,993.6 782.6,971.3 783.8,1025.8 785.0,997.5 786.1,971.2 787.3,984.2 788.4,1004.4 789.6,948.5 790.8,1010.7 791.9,950.3 793.1,1000.5 794.3,1000.0 795.4,938.7 796.6,956.8 797.8,952.2 798.9,1017.8 800.1,976.5 801.3,1028.6 802.4,1010.6 803.6,1024.2 804.7,985.4 805.9,1029.5 807.1,991.9 808.2,975.5 809.4,1034.1 810.6,1042.6 811.7,988.4 812.9,1050.7 814.1,999.8 815.2,995.2 816.4,1054.4 817.6,1025.2 818.7,999.9 819.9,1060.7 821.0,1011.2 822.2,1022.1 823.4,1070.8 824.5,1068.6 825.7,1017.2 826.9,1077.1 828.0,1064.9 829.2,1081.9 830.4,1074.0 831.5,1077.9 832.7,1035.4 833.9,1087.0 835.0,1087.4 836.2,1056.1 837.3,1086.9 838.5,1062.1 839.7,1096.0 840.8,1092.2 842.0,1086.1 843.2,1055.0 844.3,1051.7 845.5,1098.0 846.7,1075.4 847.8,1055.4 849.0,1074.8 850.2,1061.2 851.3,1060.3 852.5,1099.6 853.6,1074.5 854.8,1081.6 856.0,1109.4 857.1,1073.0 858.3,1068.3 859.5,1057.0 860.6,1068.2 861.8,1121.2 863.0,1107.0 864.1,1122.7 865.3,1110.8 866.5,1092.3 867.6,1100.8 868.8,1115.7 870.0,1100.0 871.1,1089.9 872.3,1093.2 873.4,1128.6 874.6,1101.4 875.8,1133.5 876.9,1098.0 878.1,1136.0 879.3,1105.0 880.4,1131.0 881.6,1138.2 882.8,1117.8 883.9,1130.2 885.1,1140.2 886.3,1099.1 887.4,1135.5 888.6,1106.0 889.7,1128.1 890.9,1102.1 892.1,1135.5 893.2,1142.7 894.4,1134.8 895.6,1096.0 896.7,1137.4 897.9,1105.2 899.1,1136.9 900.2,1144.1 901.4,1118.3 902.6,1119.2 903.7,1119.0 904.9,1151.6 906.0,1124.0 907.2,1120.1 908.4,1149.3 909.5,1163.2 910.7,1135.1 911.9,1120.3 913.0,1155.0 914.2,1115.0 915.4,1145.4 916.5,1148.3 917.7,1126.0 918.9,1155.6 920.0,1116.8 921.2,1114.3 922.3,1158.8 923.5,1148.2 924.7,1102.6 925.8,1156.9 927.0,1120.2 928.2,1124.2 929.3,1154.3 930.5,1161.5 931.7,1128.0 932.8,1143.7 934.0,1124.5 935.2,1123.1 936.3,1121.4 937.5,1145.9 938.6,1131.3 939.8,1119.2 941.0,1148.8 942.1,1168.0 943.3,1152.7 944.5,1129.8 945.6,1133.8 946.8,1126.5 948.0,1125.5 949.1,1161.4 950.3,1122.6 951.5,1126.6 952.6,1162.0 953.8,1151.0 954.9,1155.8 956.1,1128.4 957.3,1118.7 958.4,1149.9 959.6,1153.4 960.8,1144.3 961.9,1122.5 963.1,1159.0 964.3,1127.1 965.4,1154.1 966.6,1127.7 967.8,1121.2 968.9,1151.2 970.1,1120.7 971.2,1129.7 972.4,1133.3 973.6,1175.0 974.7,1158.9 975.9,1156.8 977.1,1128.5 978.2,1117.9 979.4,1159.3 980.6,1130.3 981.7,1116.4 982.9,1124.8 984.1,1120.6 985.2,1118.1 986.4,1137.1 987.5,1130.7 988.7,1115.6 989.9,1157.6 991.0,1122.0 992.2,1119.3 993.4,1115.8 994.5,1129.3 995.7,1115.9 996.9,1111.7 998.0,1155.9 999.2,1156.6 1000.4,1151.9 1001.5,1118.4 1002.7,1150.7 1003.8,1154.5 1005.0,1119.5 1006.2,1161.7 1007.3,1147.4 1008.5,1116.0 1009.7,1123.0 1010.8,1114.4 1012.0,1139.8 1013.2,1116.7 1014.3,1115.2 1015.5,1150.6 1016.7,1116.6 1017.8,1128.9 1019.0,1122.2 1020.1,1131.1 1021.3,1098.4 1022.5,1115.6 1023.6,1140.3 1024.8,1097.9 1026.0,1144.7 1027.1,1135.0 1028.3,1101.3 1029.5,1105.5 1030.6,1137.3 1031.8,1101.2 1033.0,1131.6 1034.1,1106.8 1035.3,1126.0 1036.5,1119.2 1037.6,1103.5 1038.8,1137.3 1039.9,1096.3 1041.1,1128.7 1042.3,1136.3 1043.4,1130.2 1044.6,1133.3 1045.8,1132.8 1046.9,1093.4 1048.1,1131.3 1049.3,1097.9 1050.4,1086.5 1051.6,1132.5 1052.8,1118.5 1053.9,1085.4 1055.1,1117.8 1056.2,1105.5 1057.4,1116.8 1058.6,1086.6 1059.7,1085.5 1060.9,1111.7 1062.1,1128.6 1063.2,1078.8 1064.4,1119.9 1065.6,1084.0 1066.7,1076.9 1067.9,1110.5 1069.1,1120.9 1070.2,1107.4 1071.4,1118.0 1072.5,1116.6 1073.7,1070.4 1074.9,1072.8 1076.0,1114.5 1077.2,1065.7 1078.4,1096.7 1079.5,1119.2 1080.7,1065.6 1081.9,1114.6 1083.0,1118.2 1084.2,1066.9 1085.4,1081.9 1086.5,1063.9 1087.7,1118.2 1088.8,1105.5 1090.0,1075.6 1091.2,1099.4 1092.3,1064.2 1093.5,1115.4 1094.7,1072.6 1095.8,1086.0 1097.0,1113.5 1098.2,1104.2 1099.3,1108.2 1100.5,1069.4 1101.7,1104.0 1102.8,1074.6 1104.0,1070.6 1105.1,1128.3 1106.3,1104.8 1107.5,1056.8 1108.6,1064.8 1109.8,1114.4 1111.0,1106.7 1112.1,1065.7 1113.3,1108.0 1114.5,1100.7 1115.6,1116.3 1116.8,1070.5 1118.0,1106.4 1119.1,1099.3 1120.3,1115.5 1121.4,1116.7 1122.6,1111.9 1123.8,1103.0 1124.9,1108.6 1126.1,1104.4 1127.3,1108.7 1128.4,1064.1 1129.6,1108.7 1130.8,1078.1 1131.9,1086.9 1133.1,1074.1 1134.3,1066.7 1135.4,1070.2 1136.6,1106.5 1137.7,1097.7 1138.9,1105.7 1140.1,1070.5 1141.2,1108.4 1142.4,1095.0 1143.6,1071.2 1144.7,1097.8 1145.9,1073.8 1147.1,1078.6 1148.2,1106.8 1149.4,1102.0 1150.6,1080.8 1151.7,1095.3 1152.9,1072.8 1154.0,1074.7 1155.2,1113.0 1156.4,1112.4 1157.5,1114.7 1158.7,1105.2 1159.9,1117.5 1161.0,1088.8 1162.2,1104.2 1163.4,1114.6 1164.5,1068.1 1165.7,1116.1 1166.9,1075.1 1168.0,1110.6 1169.2,1074.7 1170.3,1068.4 1171.5,1109.1 1172.7,1051.1 1173.8,1097.7 1175.0,1074.6 1176.2,1116.4 1177.3,1120.5 1178.5,1085.4 1179.7,1086.1 1180.8,1119.5 1182.0,1062.1 1183.2,1087.7 1184.3,1117.8 1185.5,1083.5 1186.6,1113.1 1187.8,1069.2 1189.0,1085.0 1190.1,1105.7 1191.3,1101.0 1192.5,1103.2 1193.6,1098.4 1194.8,1078.8 1196.0,1073.8 1197.1,1101.1 1198.3,1070.9 1199.5,1071.8 1200.6,1066.7 1201.8,1081.8 1202.9,1082.3 1204.1,1124.5 1205.3,1117.7 1206.4,1068.4 1207.6,1089.6 1208.8,1074.2 1209.9,1078.5 1211.1,1065.8 1212.3,1107.4 1213.4,1076.9 1214.6,1075.3 1215.8,1120.2 1216.9,1078.4 1218.1,1115.2 1219.3,1104.9 1220.4,1114.5 1221.6,1120.2 1222.7,1112.1 1223.9,1091.8 1225.1,1074.8 1226.2,1091.1 1227.4,1071.9 1228.6,1112.9 1229.7,1118.4 1230.9,1058.5 1232.1,1124.3 1233.2,1055.5 1234.4,1117.6 1235.6,1119.5 1236.7,1078.0 1237.9,1117.0 1239.0,1074.7 1240.2,1089.2 1241.4,1121.9 1242.5,1100.2 1243.7,1113.4 1244.9,1089.3 1246.0,1072.3 1247.2,1088.0 1248.4,1072.2 1249.5,1083.7 1250.7,1080.3 1251.9,1078.0 1253.0,1112.8 1254.2,1092.9 1255.3,1112.4 1256.5,1078.9 1257.7,1079.2 1258.8,1090.0 1260.0,1092.4 1261.2,1118.0 1262.3,1111.6 1263.5,1119.0 1264.7,1087.5 1265.8,1123.9 1267.0,1120.9 1268.2,1086.0 1269.3,1098.4 1270.5,1089.6 1271.6,1125.7 1272.8,1111.7 1274.0,1074.0 1275.1,1106.0 1276.3,1081.6 1277.5,1116.8 1278.6,1078.2 1279.8,1113.4 1281.0,1118.8 1282.1,1126.6 1283.3,1125.7 1284.5,1111.9 1285.6,1076.3 1286.8,1119.4 1287.9,1109.2 1289.1,1076.9 1290.3,1073.7 1291.4,1080.6 1292.6,1112.4 1293.8,1085.0 1294.9,1116.2 1296.1,1084.8 1297.3,1087.4 1298.4,1073.1 1299.6,1103.4 1300.8,1102.6 1301.9,1105.6 1303.1,1068.3 1304.2,1067.5 1305.4,1112.6 1306.6,1068.4 1307.7,1110.1 1308.9,1074.9 1310.1,1088.2 1311.2,1064.5 1312.4,1111.7 1313.6,1115.2 1314.7,1067.3 1315.9,1106.0 1317.1,1107.2 1318.2,1054.7 1319.4,1105.1 1320.5,1073.6 1321.7,1129.8 1322.9,1063.0 1324.0,1068.5 1325.2,1062.8 1326.4,1069.7 1327.5,1112.0 1328.7,1114.3 1329.9,1114.2 1331.0,1104.7 1332.2,1099.0 1333.4,1105.7 1334.5,1112.3 1335.7,1113.8 1336.8,1054.3 1338.0,1081.9 1339.2,1110.3 1340.3,1080.5 1341.5,1059.4 1342.7,1064.1 1343.8,1092.9 1345.0,1065.2 1346.2,1108.9 1347.3,1057.7 1348.5,1064.5 1349.7,1063.4 1350.8,1111.4 1352.0,1077.2 1353.1,1067.2 1354.3,1055.6 1355.5,1063.4 1356.6,1101.5 1357.8,1056.1 1359.0,1059.4 1360.1,1090.4 1361.3,1083.9 1362.5,1099.1 1363.6,1100.5 1364.8,1099.2 1366.0,1099.2 1367.1,1064.6 1368.3,1097.8 1369.4,1103.3 1370.6,1102.9 1371.8,1108.5 1372.9,1061.1 1374.1,1062.0 1375.3,1085.4 1376.4,1097.4 1377.6,1065.9 1378.8,1100.5 1379.9,1095.0 1381.1,1059.9 1382.3,1094.5 1383.4,1084.6 1384.6,1105.2 1385.8,1054.6 1386.9,1093.7 1388.1,1072.1 1389.2,1091.5 1390.4,1086.2 1391.6,1054.1 1392.7,1069.4 1393.9,1092.8 1395.1,1105.4 1396.2,1101.4 1397.4,1093.3 1398.6,1088.1 1399.7,1102.6 1400.9,1104.5 1402.1,1061.2 1403.2,1100.7 1404.4,1098.3 1405.5,1060.5 1406.7,1056.3 1407.9,1099.4 1409.0,1099.4 1410.2,1056.4 1411.4,1044.8 1412.5,1047.7 1413.7,1057.7 1414.9,1054.3 1416.0,1045.2 1417.2,1080.3 1418.4,1053.8 1419.5,1052.9 1420.7,1096.3 1421.8,1043.3 1423.0,1054.1 1424.2,1046.5 1425.3,1041.9 1426.5,1097.8 1427.7,1058.1 1428.8,1064.1 1430.0,1096.4 1431.2,1043.7 1432.3,1037.2 1433.5,1094.3 1434.7,1079.8 1435.8,1053.3 1437.0,1094.2 1438.1,1081.5 1439.3,1073.9 1440.5,1091.2 1441.6,1035.0 1442.8,1042.9 1444.0,1054.3 1445.1,1106.8 1446.3,1041.6 1447.5,1092.9 1448.6,1048.9 1449.8,1075.6 1451.0,1090.6 1452.1,1045.4 1453.3,1087.0 1454.4,1070.7 1455.6,1070.6 1456.8,1064.2 1457.9,1072.0 1459.1,1082.4 1460.3,1038.0 1461.4,1088.2 1462.6,1070.7 1463.8,1045.1 1464.9,1031.2 1466.1,1032.2 1467.3,1076.8 1468.4,1086.1 1469.6,1029.5 1470.7,1029.3 1471.9,1034.6 1473.1,1030.0 1474.2,1085.3 1475.4,1042.8 1476.6,1082.4 1477.7,1026.2 1478.9,1024.2 1480.1,1082.2 1481.2,1026.3 1482.4,1066.3 1483.6,1036.0 1484.7,1057.6 1485.9,1066.2 1487.0,1030.4 1488.2,1059.2 1489.4,1028.1 1490.5,1043.5 1491.7,1041.1 1492.9,1028.9 1494.0,1067.5 1495.2,1069.2 1496.4,1061.5 1497.5,1062.2 1498.7,1019.1 1499.9,1068.7 1501.0,1071.0 1502.2,1039.3 1503.3,1021.5 1504.5,1030.0 1505.7,1023.7 1506.8,1033.6 1508.0,1020.8 1509.2,1021.2 1510.3,1074.0 1511.5,1012.9 1512.7,1017.6 1513.8,1025.3 1515.0,1063.4 1516.2,1061.1 1517.3,1058.1 1518.5,1028.7 1519.6,1065.8 1520.8,1062.5 1522.0,1004.4 1523.1,1017.4 1524.3,1059.6 1525.5,1049.4 1526.6,1046.1 1527.8,1006.2 1529.0,1045.8 1530.1,1014.4 1531.3,1013.8 1532.5,1012.7 1533.6,1032.1 1534.8,1017.0 1535.9,999.5 1537.1,1038.6 1538.3,1030.3 1539.4,989.4 1540.6,997.8 1541.8,1040.0 1542.9,1026.1 1544.1,1036.7 1545.3,1037.4 1546.4,1036.5 1547.6,977.7 1548.8,1041.1 1549.9,1037.0 1551.1,972.8 1552.2,978.8 1553.4,1031.4 1554.6,957.5 1555.7,974.4 1556.9,1029.1 1558.1,1032.1 1559.2,1027.7 1560.4,962.9 1561.6,973.7 1562.7,1023.2 1563.9,1029.6 1565.1,976.4 1566.2,978.7 1567.4,990.0 1568.6,1023.0 1569.7,958.3 1570.9,1004.6 1572.0,957.3 1573.2,1008.0 1574.4,979.1 1575.5,978.9 1576.7,951.4 1577.9,953.7 1579.0,965.8 1580.2,981.1 1581.4,973.9 1582.5,991.8 1583.7,1005.7 1584.9,958.4 1586.0,1013.6 1587.2,1003.9 1588.3,955.5 1589.5,950.7 1590.7,941.7 1591.8,1005.7 1593.0,1010.4 1594.2,947.9 1595.3,930.1 1596.5,1035.2 1597.7,967.9 1598.8,1018.0 1600.0,1003.0 1601.2,1004.8 1602.3,983.1 1603.5,938.7 1604.6,993.7 1605.8,1006.0 1607.0,948.3 1608.1,969.1 1609.3,985.3 1610.5,934.0 1611.6,939.4 1612.8,950.5 1614.0,942.3 1615.1,963.5 1616.3,982.1 1617.5,1000.2 1618.6,986.5 1619.8,952.5 1620.9,970.7 1622.1,948.3 1623.3,985.3 1624.4,941.9 1625.6,1006.8 1626.8,975.8 1627.9,930.5 1629.1,983.2 1630.3,998.3 1631.4,921.7 1632.6,973.7 1633.8,985.8 1634.9,996.0 1636.1,935.3 1637.2,993.9 1638.4,988.4 1639.6,935.3 1640.7,945.8 1641.9,945.9 1643.1,915.2 1644.2,977.2 1645.4,984.1 1646.6,915.2 1647.7,985.0 1648.9,938.3 1650.1,924.8 1651.2,906.7 1652.4,907.0 1653.5,966.9 1654.7,965.5 1655.9,929.5 1657.0,916.4 1658.2,944.2 1659.4,938.4 1660.5,940.4 1661.7,918.3 1662.9,958.2 1664.0,894.8 1665.2,883.4 1666.4,908.1 1667.5,905.8 1668.7,940.6 1669.8,953.5 1671.0,879.0 1672.2,882.5 1673.3,945.2 1674.5,950.8 1675.7,933.9 1676.8,873.4 1678.0,945.2 1679.2,911.3 1680.3,884.3 1681.5,972.1 1682.7,930.5 1683.8,934.8 1685.0,929.0 1686.1,881.8 1687.3,952.3 1688.5,887.4 1689.6,927.9 1690.8,946.2 1692.0,894.5 1693.1,870.6 1694.3,855.7 1695.5,934.4 1696.6,897.2 1697.8,875.2 1699.0,895.9 1700.1,951.7 1701.3,940.6 1702.4,948.6 1703.6,908.5 1704.8,916.6 1705.9,952.5 1707.1,925.7 1708.3,916.4 1709.4,901.0 1710.6,896.0 1711.8,936.0 1712.9,946.0 1714.1,958.7 1715.3,942.5 1716.4,957.1 1717.6,902.3 1718.7,964.1 1719.9,959.0 1721.1,887.9 1722.2,957.9 1723.4,906.1 1724.6,893.8 1725.7,946.7 1726.9,946.1 1728.1,896.8 1729.2,954.8 1730.4,905.1 1731.6,954.9 1732.7,898.6 1733.9,897.5 1735.1,912.2 1736.2,896.8 1737.4,906.1 1738.5,958.7 1739.7,990.6 1740.9,961.4 1742.0,951.2 1743.2,947.2 1744.4,924.5 1745.5,973.5 1746.7,917.7 1747.9,910.7 1749.0,912.6 1750.2,954.6 1751.4,906.9 1752.5,906.0 1753.7,911.3 1754.8,919.4 1756.0,900.2 1757.2,960.8 1758.3,896.5 1759.5,976.2 1760.7,967.8 1761.8,975.7 1763.0,964.0 1764.2,904.5 1765.3,967.1 1766.5,950.5 1767.7,928.5 1768.8,916.5 1770.0,941.9 1771.1,914.8 1772.3,961.9 1773.5,918.2 1774.6,964.7 1775.8,963.4 1777.0,966.5 1778.1,968.4 1779.3,963.9 1780.5,898.7 1781.6,974.3 1782.8,914.9 1784.0,925.4 1785.1,911.5 1786.3,901.3 1787.4,905.8 1788.6,905.1 1789.8,972.3 1790.9,890.9 1792.1,927.7 1793.3,928.4 1794.4,913.0 1795.6,900.3 1796.8,953.2 1797.9,968.1 1799.1,965.4 1800.3,892.4 1801.4,944.2 1802.6,915.0 1803.7,922.7 1804.9,969.9 1806.1,970.8 1807.2,903.4 1808.4,947.8 1809.6,904.1 1810.7,925.0 1811.9,951.7 1813.1,951.4 1814.2,928.3 1815.4,970.8 1816.6,938.5 1817.7,892.2 1818.9,947.0 1820.0,892.6 1821.2,947.1 1822.4,917.8 1823.5,899.7 1824.7,897.0 1825.9,918.6 1827.0,962.8 1828.2,963.7 1829.4,952.9 1830.5,970.7 1831.7,951.8 1832.9,935.8 1834.0,980.9 1835.2,974.1 1836.3,923.2 1837.5,898.4 1838.7,962.7 1839.8,967.0 1841.0,978.5 1842.2,906.1 1843.3,911.4 1844.5,906.1 1845.7,900.9 1846.8,931.0 1848.0,963.1 1849.2,913.9 1850.3,923.6 1851.5,915.0 1852.6,913.2 1853.8,915.6 1855.0,970.6 1856.1,904.1 1857.3,972.1 1858.5,928.3 1859.6,937.2 1860.8,980.7 1862.0,934.7 1863.1,912.0 1864.3,964.2 1865.5,913.6 1866.6,959.2 1867.8,911.2 1868.9,911.8 1870.1,925.9 1871.3,969.2 1872.4,950.5 1873.6,980.7 1874.8,933.8 1875.9,885.3 1877.1,966.7 1878.3,909.6 1879.4,981.1 1880.6,972.3 1881.8,922.8 1882.9,916.8 1884.1,963.4 1885.2,969.5 1886.4,983.5 1887.6,920.8 1888.7,919.8 1889.9,980.0 1891.1,912.6 1892.2,972.3 1893.4,978.8 1894.6,975.8 1895.7,909.5 1896.9,981.3 1898.1,938.6 1899.2,966.4 1900.4,981.2 1901.5,1004.2 1902.7,979.9 1903.9,944.1 1905.0,971.6 1906.2,960.8 1907.4,958.3 1908.5,902.0 1909.7,908.6 1910.9,960.1 1912.0,966.6 1913.2,976.2 1914.4,942.9 1915.5,967.2 1916.7,912.2 1917.9,903.4 1919.0,913.8 1920.2,926.2 1921.3,910.2 1922.5,970.9 1923.7,929.7 1924.8,913.9 1926.0,970.4 1927.2,943.1 1928.3,935.3 1929.5,912.1 1930.7,941.2 1931.8,947.3 1933.0,984.8 1934.2,953.8 1935.3,942.0 1936.5,955.9 1937.6,945.7 1938.8,929.4 1940.0,932.2 1941.1,987.0 1942.3,918.0 1943.5,968.5 1944.6,936.6 1945.8,987.8 1947.0,993.1 1948.1,931.1 1949.3,986.5 1950.5,972.2 1951.6,948.9 1952.8,1014.4 1953.9,941.2 1955.1,978.3 1956.3,992.0 1957.4,982.6 1958.6,935.6 1959.8,935.2 1960.9,992.8 1962.1,940.8 1963.3,1004.8 1964.4,957.4 1965.6,928.8 1966.8,949.9 1967.9,920.8 1969.1,925.1 1970.2,982.7 1971.4,1001.0 1972.6,945.6 1973.7,1001.1 1974.9,1000.5 1976.1,977.8 1977.2,946.6 1978.4,953.7 1979.6,995.3 1980.7,929.7 1981.9,979.0 1983.1,991.9 1984.2,935.3 1985.4,1005.9 1986.5,980.3 1987.7,987.1 1988.9,1004.9 1990.0,985.9 1991.2,995.1 1992.4,992.5 1993.5,965.9 1994.7,991.8 1995.9,950.2 1997.0,963.6 1998.2,974.2 1999.4,955.1 2000.5,1016.3 2001.7,958.8 2002.8,1011.5 2004.0,947.7 2005.2,960.3 2006.3,960.9 2007.5,968.7 2008.7,957.2 2009.8,960.7 2011.0,1017.7 2012.2,962.0 2013.3,957.7 2014.5,960.8 2015.7,961.7 2016.8,972.9 2018.0,1023.3 2019.1,970.8 2020.3,1030.5 2021.5,966.9 2022.6,1025.3 2023.8,1030.5 2025.0,975.6 2026.1,999.1 2027.3,976.5 2028.5,1035.3 2029.6,1037.6 2030.8,987.0 2032.0,1048.0 2033.1,1026.1 2034.3,983.8 2035.4,1042.2 2036.6,1051.1 2037.8,996.6 2038.9,1052.4 2040.1,1024.5 2041.3,1001.8 2042.4,1058.2 2043.6,1019.0 2044.8,1019.6 2045.9,1001.9 2047.1,1007.6 2048.3,1012.2 2049.4,1063.9 2050.6,1027.1 2051.7,1022.3 2052.9,1022.5 2054.1,1041.9 2055.2,1030.2 2056.4,1065.6 2057.6,1068.8 2058.7,1063.6 2059.9,1074.5 2061.1,1090.5 2062.2,1022.8 2063.4,1037.7 2064.6,1042.0 2065.7,1071.5 2066.9,1080.0 2068.0,1064.1 2069.2,1052.6 2070.4,1029.3 2071.5,1047.7 2072.7,1066.0 2073.9,1048.2 2075.0,1081.5 2076.2,1085.9 2077.4,1078.8 2078.5,1051.4 2079.7,1043.6 2080.9,1080.3 2082.0,1080.9 2083.2,1072.5 2084.4,1056.2 2085.5,1092.4 2086.7,1040.8 2087.8,1057.7 2089.0,1082.2 2090.2,1058.4 2091.3,1050.1 2092.5,1058.1 2093.7,1077.0 2094.8,1035.3 2096.0,1070.0 2097.2,1050.9 2098.3,1097.7 2099.5,1072.5 2100.7,1068.7 2101.8,1053.1 2103.0,1087.4 2104.1,1066.9 2105.3,1069.2 2106.5,1063.1 2107.6,1064.9 2108.8,1111.6 2110.0,1098.8 2111.1,1105.5 2112.3,1062.4 2113.5,1118.9 2114.6,1112.1 2115.8,1077.9 2117.0,1068.5 2118.1,1110.8 2119.3,1124.1 2120.4,1091.2 2121.6,1080.7 2122.8,1124.3 2123.9,1082.3 2125.1,1091.2 2126.3,1124.5 2127.4,1121.8 2128.6,1088.1 2129.8,1114.7 2130.9,1148.1 2132.1,1131.7 2133.3,1120.6 2134.4,1134.3 2135.6,1084.0 2136.7,1067.8 2137.9,1095.6 2139.1,1135.3 2140.2,1093.9 2141.4,1098.0 2142.6,1086.3 2143.7,1127.6 2144.9,1089.8 2146.1,1131.7 2147.2,1126.8 2148.4,1094.9 2149.6,1102.6 2150.7,1096.5 2151.9,1095.4 2153.0,1100.7 2154.2,1140.3 2155.4,1095.9 2156.5,1149.5 2157.7,1102.8 2158.9,1138.6 2160.0,1095.7 2161.2,1095.3 2162.4,1139.0 2163.5,1141.7 2164.7,1138.9 2165.9,1096.9 2167.0,1106.4 2168.2,1107.9 2169.3,1115.1 2170.5,1138.5 2171.7,1128.8 2172.8,1116.0 2174.0,1141.8 2175.2,1148.8 2176.3,1119.0 2177.5,1115.6 2178.7,1114.5 2179.8,1138.1 2181.0,1105.7 2182.2,1152.3 2183.3,1136.9 2184.5,1116.7 2185.6,1136.8 2186.8,1132.6 2188.0,1133.2 2189.1,1153.8 2190.3,1121.5 2191.5,1109.0 2192.6,1111.4 2193.8,1109.3 2195.0,1144.7 2196.1,1121.7 2197.3,1098.2 2198.5,1146.3 2199.6,1117.5 2200.8,1114.9 2201.9,1118.1 2203.1,1110.5 2204.3,1114.5 2205.4,1157.6 2206.6,1102.8 2207.8,1157.1 2208.9,1115.1 2210.1,1141.5 2211.3,1127.4 2212.4,1140.0 2213.6,1128.6 2214.8,1123.0 2215.9,1107.0 2217.1,1154.2 2218.2,1163.4 2219.4,1125.8 2220.6,1112.7 2221.7,1143.4 2222.9,1157.9 2224.1,1140.1 2225.2,1155.5 2226.4,1147.4 2227.6,1126.2 2228.7,1124.7 2229.9,1127.8 2231.1,1120.4 2232.2,1147.6 2233.4,1156.6 2234.5,1158.9 2235.7,1118.7 2236.9,1120.2 2238.0,1120.6 2239.2,1152.4 2240.4,1120.0 2241.5,1156.6 2242.7,1156.1 2243.9,1117.5 2245.0,1158.9 2246.2,1123.0 2247.4,1119.7 2248.5,1123.3 2249.7,1130.8 2250.8,1158.8 2252.0,1158.0 2253.2,1122.2 2254.3,1126.5 2255.5,1155.4 2256.7,1165.0 2257.8,1153.0 2259.0,1130.5"/>
<path stroke="#0000ff" d="M628.9,-763.5 630.1,-672.4 631.3,-580.1 632.4,-294.2 633.6,-245.3 634.8,-35.3 635.9,-14.2 637.1,139.9 638.2,314.3 639.4,333.1 640.6,453.8 641.7,513.5 642.9,544.0 644.1,548.9 645.2,600.9 646.4,506.5 647.6,520.2 648.7,645.8 649.9,588.1 651.1,521.2 652.2,647.1 653.4,690.4 654.5,590.8 655.7,690.4 656.9,611.7 658.0,695.7 659.2,723.9 660.4,728.1 661.5,736.6 662.7,666.0 663.9,671.7 665.0,678.9 666.2,758.7 667.4,759.2 668.5,718.7 669.7,700.5 670.8,703.5 672.0,694.4 673.2,702.5 674.3,734.7 675.5,712.4 676.7,707.6 677.8,785.3 679.0,694.5 680.2,736.1 681.3,724.3 682.5,721.7 683.7,719.3 684.8,799.1 686.0,674.8 687.2,784.7 688.3,799.2 689.5,721.8 690.6,697.0 691.8,798.7 693.0,779.3 694.1,799.7 695.3,727.6 696.5,783.1 697.6,722.2 698.8,734.9 700.0,778.0 701.1,752.2 702.3,718.6 703.5,740.6 704.6,790.7 705.8,796.5 706.9,737.1 708.1,758.3 709.3,754.6 710.4,826.4 711.6,802.3 712.8,840.7 713.9,783.4 715.1,845.2 716.3,774.2 717.4,841.4 718.6,848.1 719.8,733.9 720.9,823.9 722.1,814.1 723.2,843.6 724.4,792.1 725.6,796.0 726.7,852.3 727.9,840.2 729.1,777.8 730.2,827.6 731.4,790.6 732.6,803.3 733.7,808.7 734.9,794.1 736.1,882.2 737.2,827.9 738.4,801.6 739.5,833.2 740.7,893.3 741.9,806.9 743.0,822.5 744.2,874.5 745.4,892.3 746.5,904.2 747.7,820.2 748.9,828.7 750.0,905.0 751.2,905.3 752.4,845.6 753.5,911.8 754.7,819.8 755.8,901.5 757.0,869.9 758.2,866.8 759.3,916.2 760.5,919.6 761.7,930.8 762.8,860.9 764.0,844.6 765.2,948.5 766.3,915.8 767.5,895.9 768.7,883.8 769.8,945.9 771.0,897.2 772.1,908.7 773.3,896.0 774.5,958.0 775.6,969.8 776.8,982.9 778.0,934.8 779.1,932.6 780.3,966.2 781.5,917.8 782.6,982.2 783.8,927.4 785.0,924.1 786.1,973.4 787.3,1002.0 788.4,953.5 789.6,949.1 790.8,933.6 791.9,939.7 793.1,984.4 794.3,956.0 795.4,1007.4 796.6,961.5 797.8,955.1 798.9,978.2 800.1,1006.4 801.3,1025.6 802.4,1001.2 803.6,1013.2 804.7,960.8 805.9,1024.8 807.1,1035.6 808.2,1022.2 809.4,1010.5 810.6,1027.8 811.7,982.0 812.9,1027.6 814.1,1037.7 815.2,1039.1 816.4,984.6 817.6,1046.3 818.7,1000.4 819.9,1016.2 821.0,1041.4 822.2,992.7 823.4,1004.0 824.5,996.3 825.7,1046.8 826.9,1004.5 828.0,1025.0 829.2,1009.0 830.4,1008.4 831.5,1052.2 832.7,1022.8 833.9,1009.3 835.0,1071.6 836.2,1009.9 837.3,1065.2 838.5,1021.5 839.7,1073.8 840.8,1013.9 842.0,1040.8 843.2,1084.7 844.3,1066.7 845.5,1038.8 846.7,1037.0 847.8,1075.7 849.0,1026.8 850.2,1072.8 851.3,1088.5 852.5,1038.1 853.6,1033.5 854.8,1025.8 856.0,1091.5 857.1,1088.6 858.3,1048.6 859.5,1104.6 860.6,1093.8 861.8,1076.3 863.0,1102.7 864.1,1049.9 865.3,1053.3 866.5,1058.8 867.6,1098.3 868.8,1054.9 870.0,1060.3 871.1,1085.6 872.3,1109.8 873.4,1116.9 874.6,1077.7 875.8,1118.9 876.9,1080.1 878.1,1122.5 879.3,1070.0 880.4,1066.3 881.6,1068.7 882.8,1069.7 883.9,1079.2 885.1,1072.8 886.3,1120.3 887.4,1079.5 888.6,1081.4 889.7,1093.6 890.9,1137.9 892.1,1084.8 893.2,1134.1 894.4,1127.5 895.6,1120.0 896.7,1079.5 897.9,1102.8 899.1,1121.6 900.2,1123.4 901.4,1123.0 902.6,1081.5 903.7,1137.9 904.9,1121.5 906.0,1085.4 907.2,1085.3 908.4,1139.5 909.5,1127.2 910.7,1140.0 911.9,1128.3 913.0,1126.5 914.2,1135.4 915.4,1083.9 916.5,1142.0 917.7,1133.8 918.9,1098.9 920.0,1112.9 921.2,1103.0 922.3,1143.1 923.5,1128.4 924.7,1111.1 925.8,1141.4 927.0,1130.9 928.2,1109.4 929.3,1121.7 930.5,1108.9 931.7,1138.6 932.8,1106.6 934.0,1092.2 935.2,1136.4 936.3,1120.2 937.5,1132.0 938.6,1137.3 939.8,1088.1 941.0,1126.6 942.1,1144.6 943.3,1135.1 944.5,1139.9 945.6,1138.5 946.8,1124.7 948.0,1128.0 949.1,1150.1 950.3,1085.1 951.5,1133.9 952.6,1137.5 953.8,1133.3 954.9,1154.5 956.1,1134.3 957.3,1133.6 958.4,1090.0 959.6,1140.6 960.8,1076.8 961.9,1121.8 963.1,1105.8 964.3,1093.3 965.4,1121.0 966.6,1090.7 967.8,1130.5 968.9,1098.4 970.1,1138.0 971.2,1119.6 972.4,1131.2 973.6,1090.5 974.7,1088.4 975.9,1085.8 977.1,1139.6 978.2,1117.8 979.4,1113.8 980.6,1092.8 981.7,1083.4 982.9,1120.6 984.1,1077.8 985.2,1108.2 986.4,1093.1 987.5,1129.4 988.7,1121.2 989.9,1090.1 991.0,1081.1 992.2,1115.1 993.4,1090.5 994.5,1118.8 995.7,1121.3 996.9,1083.8 998.0,1087.3 999.2,1083.6 1000.4,1117.8 1001.5,1134.4 1002.7,1081.3 1003.8,1067.1 1005.0,1112.1 1006.2,1068.5 1007.3,1069.6 1008.5,1115.1 1009.7,1072.5 1010.8,1062.7 1012.0,1078.3 1013.2,1095.2 1014.3,1070.8 1015.5,1094.1 1016.7,1078.8 1017.8,1067.9 1019.0,1100.1 1020.1,1104.2 1021.3,1097.5 1022.5,1104.8 1023.6,1059.3 1024.8,1091.4 1026.0,1109.0 1027.1,1063.6 1028.3,1056.4 1029.5,1060.3 1030.6,1062.2 1031.8,1094.9 1033.0,1099.1 1034.1,1063.8 1035.3,1086.4 1036.5,1105.2 1037.6,1104.1 1038.8,1078.1 1039.9,1033.8 1041.1,1085.0 1042.3,1050.0 1043.4,1103.7 1044.6,1080.5 1045.8,1097.3 1046.9,1055.5 1048.1,1096.2 1049.3,1091.9 1050.4,1063.5 1051.6,1051.7 1052.8,1099.1 1053.9,1085.7 1055.1,1105.8 1056.2,1088.4 1057.4,1097.5 1058.6,1061.9 1059.7,1075.8 1060.9,1094.8 1062.1,1062.1 1063.2,1065.6 1064.4,1084.0 1065.6,1058.9 1066.7,1040.6 1067.9,1097.3 1069.1,1046.7 1070.2,1039.9 1071.4,1041.2 1072.5,1089.4 1073.7,1092.1 1074.9,1042.5 1076.0,1057.1 1077.2,1050.6 1078.4,1073.1 1079.5,1061.5 1080.7,1053.8 1081.9,1057.8 1083.0,1041.6 1084.2,1054.7 1085.4,1089.8 1086.5,1036.7 1087.7,1090.1 1088.8,1042.6 1090.0,1091.5 1091.2,1078.2 1092.3,1094.5 1093.5,1046.7 1094.7,1082.8 1095.8,1077.8 1097.0,1089.6 1098.2,1069.2 1099.3,1049.4 1100.5,1055.8 1101.7,1041.3 1102.8,1095.4 1104.0,1060.9 1105.1,1087.7 1106.3,1078.4 1107.5,1065.2 1108.6,1088.2 1109.8,1047.0 1111.0,1064.0 1112.1,1032.8 1113.3,1089.5 1114.5,1087.9 1115.6,1087.8 1116.8,1052.5 1118.0,1046.1 1119.1,1048.3 1120.3,1084.0 1121.4,1087.4 1122.6,1072.0 1123.8,1042.4 1124.9,1085.5 1126.1,1043.4 1127.3,1078.7 1128.4,1045.3 1129.6,1042.6 1130.8,1095.5 1131.9,1084.8 1133.1,1087.1 1134.3,1055.9 1135.4,1109.0 1136.6,1078.2 1137.7,1101.0 1138.9,1098.1 1140.1,1062.6 1141.2,1058.5 1142.4,1055.4 1143.6,1086.7 1144.7,1101.7 1145.9,1088.7 1147.1,1090.2 1148.2,1102.6 1149.4,1090.0 1150.6,1048.1 1151.7,1051.5 1152.9,1100.7 1154.0,1101.3 1155.2,1100.8 1156.4,1061.3 1157.5,1051.5 1158.7,1064.6 1159.9,1099.5 1161.0,1095.0 1162.2,1104.2 1163.4,1053.2 1164.5,1054.5 1165.7,1100.8 1166.9,1065.2 1168.0,1096.8 1169.2,1044.4 1170.3,1100.3 1171.5,1081.7 1172.7,1099.1 1173.8,1097.8 1175.0,1093.7 1176.2,1104.0 1177.3,1057.9 1178.5,1049.1 1179.7,1063.5 1180.8,1101.8 1182.0,1088.5 1183.2,1075.7 1184.3,1100.5 1185.5,1055.0 1186.6,1096.8 1187.8,1057.4 1189.0,1095.9 1190.1,1046.0 1191.3,1056.5 1192.5,1059.9 1193.6,1093.0 1194.8,1122.1 1196.0,1057.8 1197.1,1086.1 1198.3,1074.5 1199.5,1051.4 1200.6,1091.3 1201.8,1106.2 1202.9,1086.6 1204.1,1069.6 1205.3,1048.4 1206.4,1048.3 1207.6,1102.3 1208.8,1098.8 1209.9,1057.5 1211.1,1059.2 1212.3,1093.0 1213.4,1062.7 1214.6,1074.7 1215.8,1091.6 1216.9,1058.6 1218.1,1059.4 1219.3,1051.5 1220.4,1055.4 1221.6,1053.1 1222.7,1063.3 1223.9,1098.5 1225.1,1095.2 1226.2,1059.1 1227.4,1055.7 1228.6,1079.0 1229.7,1103.4 1230.9,1074.6 1232.1,1091.4 1233.2,1053.6 1234.4,1053.1 1235.6,1067.0 1236.7,1068.1 1237.9,1038.9 1239.0,1099.5 1240.2,1090.1 1241.4,1081.9 1242.5,1058.2 1243.7,1047.4 1244.9,1060.5 1246.0,1052.7 1247.2,1069.0 1248.4,1060.9 1249.5,1046.8 1250.7,1064.8 1251.9,1092.9 1253.0,1103.9 1254.2,1057.4 1255.3,1082.2 1256.5,1091.9 1257.7,1094.5 1258.8,1039.4 1260.0,1067.3 1261.2,1059.4 1262.3,1042.8 1263.5,1100.7 1264.7,1092.3 1265.8,1091.5 1267.0,1060.8 1268.2,1094.2 1269.3,1054.7 1270.5,1098.2 1271.6,1037.8 1272.8,1097.2 1274.0,1090.4 1275.1,1056.3 1276.3,1089.7 1277.5,1045.0 1278.6,1075.8 1279.8,1086.8 1281.0,1039.5 1282.1,1089.5 1283.3,1038.9 1284.5,1081.1 1285.6,1082.2 1286.8,1094.7 1287.9,1037.2 1289.1,1050.6 1290.3,1068.2 1291.4,1045.3 1292.6,1076.2 1293.8,1083.4 1294.9,1070.6 1296.1,1082.0 1297.3,1065.5 1298.4,1047.8 1299.6,1078.4 1300.8,1045.9 1301.9,1072.9 1303.1,1075.2 1304.2,1023.8 1305.4,1023.8 1306.6,1043.5 1307.7,1061.0 1308.9,1073.2 1310.1,1040.3 1311.2,1033.6 1312.4,1068.0 1313.6,1033.6 1314.7,1022.9 1315.9,1060.1 1317.1,1019.2 1318.2,1072.0 1319.4,1060.5 1320.5,1055.6 1321.7,1080.0 1322.9,1038.7 1324.0,1026.7 1325.2,1028.0 1326.4,1039.8 1327.5,1037.1 1328.7,1075.5 1329.9,1066.8 1331.0,1040.3 1332.2,1023.9 1333.4,1020.4 1334.5,1032.9 1335.7,1075.3 1336.8,1023.1 1338.0,1013.9 1339.2,1074.5 1340.3,1067.5 1341.5,1031.8 1342.7,1055.1 1343.8,1023.9 1345.0,1013.7 1346.2,1023.0 1347.3,1052.4 1348.5,1016.2 1349.7,1049.4 1350.8,1061.6 1352.0,1015.9 1353.1,1053.4 1354.3,1010.5 1355.5,1047.9 1356.6,1078.6 1357.8,1055.7 1359.0,1026.8 1360.1,1017.9 1361.3,1063.0 1362.5,1058.1 1363.6,1044.0 1364.8,1040.8 1366.0,1044.9 1367.1,1052.3 1368.3,1012.6 1369.4,1050.1 1370.6,1002.0 1371.8,1037.0 1372.9,1061.2 1374.1,1007.0 1375.3,1059.8 1376.4,1060.9 1377.6,1007.4 1378.8,998.1 1379.9,1036.6 1381.1,1031.7 1382.3,1031.2 1383.4,1045.4 1384.6,1009.0 1385.8,1045.5 1386.9,1044.7 1388.1,1007.5 1389.2,990.8 1390.4,995.1 1391.6,1002.2 1392.7,1003.3 1393.9,1052.9 1395.1,1002.6 1396.2,1041.6 1397.4,1051.1 1398.6,1034.1 1399.7,1036.5 1400.9,1042.2 1402.1,1046.6 1403.2,1011.9 1404.4,996.6 1405.5,1055.4 1406.7,1019.5 1407.9,986.1 1409.0,988.2 1410.2,984.3 1411.4,1028.4 1412.5,989.3 1413.7,1042.0 1414.9,991.8 1416.0,1047.5 1417.2,1042.6 1418.4,1030.6 1419.5,1020.1 1420.7,979.6 1421.8,1037.2 1423.0,1032.0 1424.2,988.2 1425.3,984.7 1426.5,1038.0 1427.7,1058.4 1428.8,1056.2 1430.0,1039.0 1431.2,1027.4 1432.3,1036.5 1433.5,1037.4 1434.7,1040.8 1435.8,996.7 1437.0,1024.3 1438.1,1040.2 1439.3,1033.9 1440.5,997.1 1441.6,1040.5 1442.8,1041.4 1444.0,984.8 1445.1,1031.2 1446.3,1023.1 1447.5,982.9 1448.6,1024.9 1449.8,1026.9 1451.0,983.2 1452.1,970.9 1453.3,974.7 1454.4,970.3 1455.6,993.8 1456.8,1034.4 1457.9,996.0 1459.1,1035.5 1460.3,976.4 1461.4,1034.2 1462.6,1035.8 1463.8,1024.0 1464.9,1016.7 1466.1,985.2 1467.3,1036.9 1468.4,964.7 1469.6,1034.5 1470.7,964.2 1471.9,1002.3 1473.1,948.5 1474.2,1016.8 1475.4,1013.5 1476.6,1030.4 1477.7,982.3 1478.9,1029.9 1480.1,1023.3 1481.2,1028.1 1482.4,1023.7 1483.6,1006.5 1484.7,960.2 1485.9,974.8 1487.0,1023.3 1488.2,960.6 1489.4,1008.4 1490.5,1008.5 1491.7,966.2 1492.9,960.0 1494.0,1011.3 1495.2,1014.5 1496.4,1009.4 1497.5,1017.5 1498.7,1002.1 1499.9,1006.5 1501.0,1001.7 1502.2,1018.3 1503.3,958.0 1504.5,956.2 1505.7,1007.0 1506.8,954.1 1508.0,950.4 1509.2,962.8 1510.3,953.2 1511.5,945.9 1512.7,998.2 1513.8,1014.2 1515.0,960.6 1516.2,992.1 1517.3,986.4 1518.5,959.1 1519.6,940.4 1520.8,958.1 1522.0,957.5 1523.1,997.8 1524.3,989.7 1525.5,995.0 1526.6,947.7 1527.8,937.6 1529.0,1003.4 1530.1,950.4 1531.3,940.7 1532.5,949.6 1533.6,942.4 1534.8,936.6 1535.9,1004.1 1537.1,940.7 1538.3,934.7 1539.4,932.9 1540.6,1003.5 1541.8,921.1 1542.9,948.9 1544.1,1001.5 1545.3,930.4 1546.4,998.6 1547.6,996.2 1548.8,968.5 1549.9,999.4 1551.1,939.3 1552.2,922.0 1553.4,965.6 1554.6,950.6 1555.7,1006.7 1556.9,926.3 1558.1,994.2 1559.2,940.5 1560.4,926.9 1561.6,917.3 1562.7,908.6 1563.9,975.1 1565.1,919.4 1566.2,974.8 1567.4,963.0 1568.6,918.0 1569.7,967.1 1570.9,981.0 1572.0,969.8 1573.2,969.9 1574.4,980.5 1575.5,973.8 1576.7,929.8 1577.9,909.4 1579.0,986.2 1580.2,962.1 1581.4,915.1 1582.5,978.2 1583.7,968.5 1584.9,953.4 1586.0,980.1 1587.2,973.8 1588.3,919.2 1589.5,933.0 1590.7,978.2 1591.8,978.4 1593.0,979.8 1594.2,976.7 1595.3,884.2 1596.5,966.6 1597.7,924.5 1598.8,972.1 1600.0,969.6 1601.2,971.3 1602.3,932.8 1603.5,896.5 1604.6,976.8 1605.8,966.6 1607.0,900.3 1608.1,912.5 1609.3,929.3 1610.5,912.7 1611.6,974.9 1612.8,975.8 1614.0,955.0 1615.1,944.2 1616.3,898.3 1617.5,973.3 1618.6,907.6 1619.8,924.3 1620.9,912.9 1622.1,956.0 1623.3,901.9 1624.4,901.6 1625.6,951.3 1626.8,919.0 1627.9,959.4 1629.1,970.7 1630.3,952.6 1631.4,972.0 1632.6,958.3 1633.8,896.0 1634.9,867.3 1636.1,905.0 1637.2,954.8 1638.4,900.0 1639.6,894.0 1640.7,969.0 1641.9,900.6 1643.1,901.0 1644.2,960.3 1645.4,885.9 1646.6,894.1 1647.7,950.6 1648.9,919.0 1650.1,953.6 1651.2,974.0 1652.4,902.1 1653.5,922.8 1654.7,972.1 1655.9,912.3 1657.0,915.1 1658.2,975.2 1659.4,885.9 1660.5,926.0 1661.7,903.5 1662.9,899.1 1664.0,971.9 1665.2,953.4 1666.4,904.9 1667.5,935.4 1668.7,979.4 1669.8,965.0 1671.0,980.2 1672.2,920.0 1673.3,974.4 1674.5,919.8 1675.7,909.3 1676.8,942.0 1678.0,934.8 1679.2,964.0 1680.3,897.0 1681.5,965.7 1682.7,919.3 1683.8,917.8 1685.0,925.4 1686.1,985.2 1687.3,923.6 1688.5,913.1 1689.6,915.0 1690.8,920.7 1692.0,926.2 1693.1,921.7 1694.3,987.0 1695.5,965.1 1696.6,978.4 1697.8,983.4 1699.0,937.3 1700.1,936.9 1701.3,961.0 1702.4,971.9 1703.6,949.8 1704.8,984.8 1705.9,926.9 1707.1,983.1 1708.3,989.2 1709.4,937.9 1710.6,999.7 1711.8,979.2 1712.9,932.2 1714.1,997.8 1715.3,975.7 1716.4,993.2 1717.6,934.2 1718.7,939.3 1719.9,932.9 1721.1,951.6 1722.2,1001.4 1723.4,997.1 1724.6,989.3 1725.7,942.1 1726.9,1004.2 1728.1,995.4 1729.2,954.6 1730.4,946.1 1731.6,1001.2 1732.7,980.2 1733.9,937.9 1735.1,969.6 1736.2,1001.4 1737.4,938.2 1738.5,1009.2 1739.7,984.5 1740.9,1003.0 1742.0,995.0 1743.2,1021.9 1744.4,988.4 1745.5,998.3 1746.7,966.1 1747.9,1000.9 1749.0,953.8 1750.2,1015.5 1751.4,949.9 1752.5,951.6 1753.7,1001.1 1754.8,1037.1 1756.0,1014.9 1757.2,960.5 1758.3,998.5 1759.5,1008.3 1760.7,960.8 1761.8,1012.8 1763.0,961.3 1764.2,1010.1 1765.3,1007.0 1766.5,1007.0 1767.7,952.1 1768.8,1019.4 1770.0,1021.5 1771.1,992.9 1772.3,958.6 1773.5,964.1 1774.6,1005.0 1775.8,1006.6 1777.0,1025.3 1778.1,979.9 1779.3,957.0 1780.5,1019.2 1781.6,964.7 1782.8,1016.2 1784.0,963.7 1785.1,962.7 1786.3,965.4 1787.4,978.8 1788.6,1015.9 1789.8,1009.5 1790.9,955.9 1792.1,996.3 1793.3,960.8 1794.4,1017.9 1795.6,973.8 1796.8,1022.3 1797.9,964.3 1799.1,961.6 1800.3,957.7 1801.4,1000.8 1802.6,1022.0 1803.7,1019.6 1804.9,961.9 1806.1,1014.9 1807.2,1025.8 1808.4,1007.0 1809.6,1030.6 1810.7,1029.1 1811.9,1012.9 1813.1,1030.3 1814.2,978.4 1815.4,1022.3 1816.6,969.6 1817.7,985.9 1818.9,967.9 1820.0,969.1 1821.2,960.6 1822.4,994.0 1823.5,969.5 1824.7,1016.4 1825.9,1019.9 1827.0,1028.7 1828.2,1034.2 1829.4,1027.8 1830.5,1010.4 1831.7,1030.5 1832.9,961.9 1834.0,983.5 1835.2,977.9 1836.3,975.2 1837.5,1045.6 1838.7,971.4 1839.8,1025.4 1841.0,1017.5 1842.2,1023.8 1843.3,1025.8 1844.5,965.2 1845.7,1007.1 1846.8,1016.4 1848.0,980.8 1849.2,973.8 1850.3,1019.3 1851.5,1004.1 1852.6,982.8 1853.8,1012.0 1855.0,981.1 1856.1,968.4 1857.3,1023.1 1858.5,1010.8 1859.6,982.0 1860.8,982.9 1862.0,1022.4 1863.1,979.9 1864.3,1007.3 1865.5,976.6 1866.6,951.9 1867.8,1006.4 1868.9,962.6 1870.1,990.2 1871.3,960.0 1872.4,1011.0 1873.6,1023.5 1874.8,968.0 1875.9,966.9 1877.1,1015.5 1878.3,1015.3 1879.4,1042.4 1880.6,1027.0 1881.8,969.3 1882.9,1027.0 1884.1,939.1 1885.2,1003.5 1886.4,1008.7 1887.6,1039.7 1888.7,984.9 1889.9,960.7 1891.1,1018.3 1892.2,965.2 1893.4,1010.3 1894.6,1030.3 1895.7,1004.5 1896.9,1023.7 1898.1,971.0 1899.2,974.5 1900.4,1018.7 1901.5,955.5 1902.7,978.7 1903.9,1008.4 1905.0,982.6 1906.2,967.9 1907.4,1004.0 1908.5,956.8 1909.7,965.7 1910.9,1020.4 1912.0,988.1 1913.2,1008.7 1914.4,1004.1 1915.5,1001.4 1916.7,1006.7 1917.9,949.3 1919.0,964.1 1920.2,1001.1 1921.3,945.8 1922.5,1015.3 1923.7,1006.6 1924.8,1011.2 1926.0,970.5 1927.2,962.8 1928.3,992.3 1929.5,947.6 1930.7,990.4 1931.8,940.8 1933.0,1002.6 1934.2,953.4 1935.3,1002.3 1936.5,962.2 1937.6,938.2 1938.8,979.9 1940.0,992.4 1941.1,934.0 1942.3,936.9 1943.5,1022.3 1944.6,975.8 1945.8,945.8 1947.0,933.6 1948.1,957.4 1949.3,1014.8 1950.5,937.0 1951.6,1006.2 1952.8,991.6 1953.9,931.3 1955.1,962.0 1956.3,991.8 1957.4,958.5 1958.6,997.2 1959.8,925.0 1960.9,1005.7 1962.1,989.6 1963.3,1000.9 1964.4,992.3 1965.6,946.3 1966.8,1004.0 1967.9,972.2 1969.1,994.6 1970.2,1015.7 1971.4,1009.8 1972.6,973.3 1973.7,1019.0 1974.9,971.1 1976.1,952.0 1977.2,1017.6 1978.4,960.4 1979.6,976.7 1980.7,998.2 1981.9,1002.7 1983.1,965.5 1984.2,962.4 1985.4,962.9 1986.5,991.9 1987.7,1030.3 1988.9,982.2 1990.0,972.0 1991.2,969.5 1992.4,1030.0 1993.5,1009.3 1994.7,1003.4 1995.9,1011.0 1997.0,1019.1 1998.2,1041.0 1999.4,990.5 2000.5,1044.8 2001.7,1014.1 2002.8,1018.7 2004.0,1020.0 2005.2,991.6 2006.3,1036.9 2007.5,1049.1 2008.7,1035.9 2009.8,990.2 2011.0,986.4 2012.2,992.4 2013.3,1051.4 2014.5,1007.1 2015.7,994.0 2016.8,999.4 2018.0,1016.2 2019.1,1020.4 2020.3,1024.3 2021.5,1030.5 2022.6,1062.8 2023.8,1009.9 2025.0,1056.1 2026.1,1051.5 2027.3,1055.1 2028.5,1038.1 2029.6,1056.1 2030.8,1041.0 2032.0,1027.7 2033.1,1020.9 2034.3,1072.0 2035.4,1065.6 2036.6,1057.1 2037.8,1064.5 2038.9,1028.4 2040.1,1037.2 2041.3,1068.5 2042.4,1037.8 2043.6,1070.6 2044.8,1083.4 2045.9,1083.3 2047.1,1039.8 2048.3,1050.8 2049.4,1051.1 2050.6,1087.3 2051.7,1067.2 2052.9,1047.4 2054.1,1094.1 2055.2,1102.7 2056.4,1045.2 2057.6,1052.6 2058.7,1058.7 2059.9,1061.4 2061.1,1055.2 2062.2,1058.6 2063.4,1103.0 2064.6,1087.4 2065.7,1100.8 2066.9,1107.2 2068.0,1058.2 2069.2,1093.9 2070.4,1092.7 2071.5,1113.3 2072.7,1067.6 2073.9,1062.5 2075.0,1106.3 2076.2,1062.3 2077.4,1114.9 2078.5,1112.8 2079.7,1117.3 2080.9,1112.7 2082.0,1071.2 2083.2,1081.2 2084.4,1076.9 2085.5,1078.0 2086.7,1118.1 2087.8,1111.0 2089.0,1092.0 2090.2,1120.7 2091.3,1127.6 2092.5,1087.0 2093.7,1127.4 2094.8,1127.0 2096.0,1084.0 2097.2,1081.1 2098.3,1099.6 2099.5,1087.6 2100.7,1089.7 2101.8,1085.0 2103.0,1119.3 2104.1,1103.0 2105.3,1091.5 2106.5,1134.4 2107.6,1117.7 2108.8,1093.6 2110.0,1100.7 2111.1,1128.0 2112.3,1092.9 2113.5,1142.5 2114.6,1142.2 2115.8,1131.5 2117.0,1114.9 2118.1,1144.1 2119.3,1099.2 2120.4,1144.6 2121.6,1140.3 2122.8,1103.0 2123.9,1122.7 2125.1,1093.5 2126.3,1145.6 2127.4,1153.4 2128.6,1098.8 2129.8,1141.9 2130.9,1105.7 2132.1,1121.9 2133.3,1106.8 2134.4,1119.3 2135.6,1116.6 2136.7,1118.3 2137.9,1118.1 2139.1,1157.3 2140.2,1120.6 2141.4,1113.7 2142.6,1146.6 2143.7,1148.7 2144.9,1160.0 2146.1,1149.4 2147.2,1122.9 2148.4,1123.5 2149.6,1160.4 2150.7,1154.0 2151.9,1165.7 2153.0,1167.2 2154.2,1139.3 2155.4,1159.6 2156.5,1134.9 2157.7,1136.4 2158.9,1158.9 2160.0,1136.2 2161.2,1129.3 2162.4,1164.2 2163.5,1170.8 2164.7,1169.4 2165.9,1141.3 2167.0,1143.0 2168.2,1123.8 2169.3,1168.5 2170.5,1164.9 2171.7,1162.6 2172.8,1146.6 2174.0,1137.6 2175.2,1135.5 2176.3,1134.8 2177.5,1149.6 2178.7,1166.4 2179.8,1147.2 2181.0,1162.2 2182.2,1141.0 2183.3,1148.0 2184.5,1137.2 2185.6,1147.6 2186.8,1171.5 2188.0,1144.3 2189.1,1148.4 2190.3,1146.1 2191.5,1181.3 2192.6,1152.5 2193.8,1133.7 2195.0,1171.8 2196.1,1168.1 2197.3,1175.8 2198.5,1151.5 2199.6,1147.8 2200.8,1150.0 2201.9,1159.0 2203.1,1157.6 2204.3,1182.6 2205.4,1176.4 2206.6,1184.5 2207.8,1175.4 2208.9,1150.4 2210.1,1154.7 2211.3,1175.9 2212.4,1150.6 2213.6,1154.0 2214.8,1147.0 2215.9,1147.3 2217.1,1177.3 2218.2,1156.6 2219.4,1140.0 2220.6,1184.9 2221.7,1147.7 2222.9,1148.1 2224.1,1176.9 2225.2,1140.6 2226.4,1155.3 2227.6,1186.3 2228.7,1153.0 2229.9,1188.8 2231.1,1189.3 2232.2,1201.6 2233.4,1160.4 2234.5,1188.6 2235.7,1150.3 2236.9,1187.8 2238.0,1156.3 2239.2,1159.7 2240.4,1174.2 2241.5,1181.9 2242.7,1155.6 2243.9,1165.6 2245.0,1189.0 2246.2,1162.6 2247.4,1159.2 2248.5,1182.1 2249.7,1188.8 2250.8,1154.9 2252.0,1175.9 2253.2,1161.1 2254.3,1159.1 2255.5,1188.5 2256.7,1185.5 2257.8,1177.5 2259.0,1163.1"/>
</g>
<g stroke-width="11.5" stroke-linecap="round" fill="none">
<path stroke="#0000ff" d="M730.4,256.6H855"/>
<path stroke="#ff0000" d="M730.4,358.5H855"/>
<path stroke="#000000" d="M730.4,466.5H855"/>
</g>
<text class="lg" transform="translate(924.00,288.00) scale(0.934,1)" font-size="100.9" text-anchor="start">PCPDTDTBTDI-8,DMO</text>
<text class="lg" transform="translate(924.00,390.10) scale(0.9406,1)" font-size="100.9" text-anchor="start">PCPDTDTBTDI-8,8</text>
<text class="lg" transform="translate(924.00,498.10) scale(0.9364,1)" font-size="100.9" text-anchor="start">PCPDTDTBTDI-EH,8</text>
</svg></body></html>
